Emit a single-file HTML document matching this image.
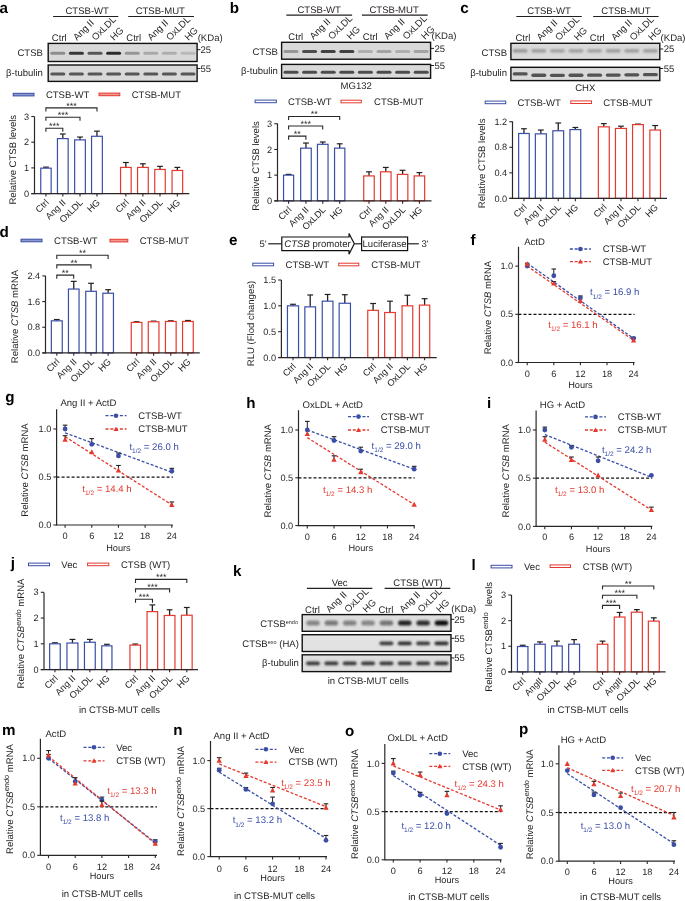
<!DOCTYPE html><html><head><meta charset="utf-8"><style>html,body{margin:0;padding:0;background:#fff;}svg{display:block;filter:blur(0.3px);}text{font-family:"Liberation Sans",sans-serif;text-rendering:geometricPrecision;}</style></head><body>
<svg width="685" height="901" viewBox="0 0 685 901">
<defs><filter id="bl" x="-50%" y="-100%" width="200%" height="300%"><feGaussianBlur stdDeviation="0.75"/></filter><filter id="bl2" x="-50%" y="-100%" width="200%" height="300%"><feGaussianBlur stdDeviation="1.1"/></filter></defs>
<rect width="685" height="901" fill="#fff"/>
<text x="-0.60" y="12.50" font-size="15.2" text-anchor="start" fill="#000" font-weight="bold" font-style="normal">a</text>
<text x="87.20" y="14.19" font-size="9.55" text-anchor="middle" fill="#231f20" font-weight="normal" font-style="normal">CTSB-WT</text>
<line x1="53.10" y1="16.50" x2="118.30" y2="16.50" stroke="#231f20" stroke-width="1.2"/>
<text x="160.30" y="14.19" font-size="9.55" text-anchor="middle" fill="#231f20" font-weight="normal" font-style="normal">CTSB-MUT</text>
<line x1="128.20" y1="16.50" x2="194.00" y2="16.50" stroke="#231f20" stroke-width="1.2"/>
<text x="59.30" y="41.10" font-size="9.55" text-anchor="middle" fill="#231f20" font-weight="normal" font-style="normal">Ctrl</text>
<text x="76.90" y="41.10" font-size="9.55" text-anchor="start" fill="#231f20" transform="rotate(-45 76.90 41.10)">Ang II</text>
<text x="95.50" y="41.10" font-size="9.55" text-anchor="start" fill="#231f20" transform="rotate(-45 95.50 41.10)">OxLDL</text>
<text x="114.10" y="41.10" font-size="9.55" text-anchor="start" fill="#231f20" transform="rotate(-45 114.10 41.10)">HG</text>
<text x="133.70" y="41.10" font-size="9.55" text-anchor="middle" fill="#231f20" font-weight="normal" font-style="normal">Ctrl</text>
<text x="151.30" y="41.10" font-size="9.55" text-anchor="start" fill="#231f20" transform="rotate(-45 151.30 41.10)">Ang II</text>
<text x="169.90" y="41.10" font-size="9.55" text-anchor="start" fill="#231f20" transform="rotate(-45 169.90 41.10)">OxLDL</text>
<text x="188.50" y="41.10" font-size="9.55" text-anchor="start" fill="#231f20" transform="rotate(-45 188.50 41.10)">HG</text>
<text x="197.70" y="41.09" font-size="9.55" text-anchor="start" fill="#231f20" font-weight="normal" font-style="normal">(KDa)</text>
<rect x="48.20" y="43.40" width="148.90" height="18.10" fill="#d9d9d9" stroke="#111" stroke-width="1.4"/>
<rect x="50.30" y="51.75" width="15.00" height="3.00" rx="1.50" fill="#000" fill-opacity="0.35" filter="url(#bl)"/>
<rect x="68.90" y="51.75" width="15.00" height="3.00" rx="1.50" fill="#000" fill-opacity="0.75" filter="url(#bl)"/>
<rect x="87.50" y="51.75" width="15.00" height="3.00" rx="1.50" fill="#000" fill-opacity="0.60" filter="url(#bl)"/>
<rect x="106.10" y="51.75" width="15.00" height="3.00" rx="1.50" fill="#000" fill-opacity="0.80" filter="url(#bl)"/>
<rect x="124.70" y="51.75" width="15.00" height="3.00" rx="1.50" fill="#000" fill-opacity="0.30" filter="url(#bl)"/>
<rect x="143.30" y="51.75" width="15.00" height="3.00" rx="1.50" fill="#000" fill-opacity="0.22" filter="url(#bl)"/>
<rect x="161.90" y="51.75" width="15.00" height="3.00" rx="1.50" fill="#000" fill-opacity="0.20" filter="url(#bl)"/>
<rect x="180.50" y="51.75" width="15.00" height="3.00" rx="1.50" fill="#000" fill-opacity="0.15" filter="url(#bl)"/>
<rect x="48.20" y="65.00" width="148.90" height="16.40" fill="#d9d9d9" stroke="#111" stroke-width="1.4"/>
<rect x="50.30" y="72.50" width="15.00" height="3.00" rx="1.50" fill="#000" fill-opacity="0.60" filter="url(#bl)"/>
<rect x="68.90" y="72.50" width="15.00" height="3.00" rx="1.50" fill="#000" fill-opacity="0.60" filter="url(#bl)"/>
<rect x="87.50" y="72.50" width="15.00" height="3.00" rx="1.50" fill="#000" fill-opacity="0.60" filter="url(#bl)"/>
<rect x="106.10" y="72.50" width="15.00" height="3.00" rx="1.50" fill="#000" fill-opacity="0.60" filter="url(#bl)"/>
<rect x="124.70" y="72.50" width="15.00" height="3.00" rx="1.50" fill="#000" fill-opacity="0.60" filter="url(#bl)"/>
<rect x="143.30" y="72.50" width="15.00" height="3.00" rx="1.50" fill="#000" fill-opacity="0.60" filter="url(#bl)"/>
<rect x="161.90" y="72.50" width="15.00" height="3.00" rx="1.50" fill="#000" fill-opacity="0.60" filter="url(#bl)"/>
<rect x="180.50" y="72.50" width="15.00" height="3.00" rx="1.50" fill="#000" fill-opacity="0.60" filter="url(#bl)"/>
<text x="42.90" y="55.89" font-size="9.55" text-anchor="end" fill="#231f20" font-weight="normal" font-style="normal">CTSB</text>
<text x="42.90" y="75.99" font-size="9.55" text-anchor="end" fill="#231f20" font-weight="normal" font-style="normal">β-tubulin</text>
<line x1="197.10" y1="49.70" x2="200.50" y2="49.70" stroke="#231f20" stroke-width="1.0"/>
<text x="200.50" y="52.99" font-size="9.55" text-anchor="start" fill="#231f20" font-weight="normal" font-style="normal">25</text>
<line x1="197.10" y1="68.50" x2="200.50" y2="68.50" stroke="#231f20" stroke-width="1.0"/>
<text x="200.50" y="71.79" font-size="9.55" text-anchor="start" fill="#231f20" font-weight="normal" font-style="normal">55</text>
<rect x="13.20" y="93.30" width="20.80" height="2.6" fill="#8a98cf" stroke="#3a4ea6" stroke-width="1"/>
<text x="45.90" y="97.99" font-size="9.55" text-anchor="start" fill="#231f20" font-weight="normal" font-style="normal">CTSB-WT</text>
<rect x="99.00" y="93.10" width="20.80" height="2.6" fill="#f09a93" stroke="#e5392e" stroke-width="1"/>
<text x="131.70" y="97.99" font-size="9.55" text-anchor="start" fill="#231f20" font-weight="normal" font-style="normal">CTSB-MUT</text>
<line x1="45.95" y1="168.16" x2="45.95" y2="167.13" stroke="#231f20" stroke-width="1.3"/>
<line x1="43.05" y1="167.13" x2="48.85" y2="167.13" stroke="#231f20" stroke-width="1.2"/>
<rect x="40.75" y="168.16" width="10.40" height="25.44" fill="#fff" stroke="#3a4ea6" stroke-width="1.2"/>
<line x1="45.95" y1="193.60" x2="45.95" y2="196.40" stroke="#2b2728" stroke-width="1.1"/>
<line x1="62.80" y1="138.60" x2="62.80" y2="133.98" stroke="#231f20" stroke-width="1.3"/>
<line x1="59.90" y1="133.98" x2="65.70" y2="133.98" stroke="#231f20" stroke-width="1.2"/>
<rect x="57.45" y="138.60" width="10.70" height="55.00" fill="#fff" stroke="#3a4ea6" stroke-width="1.2"/>
<line x1="62.80" y1="193.60" x2="62.80" y2="196.40" stroke="#2b2728" stroke-width="1.1"/>
<line x1="80.00" y1="139.89" x2="80.00" y2="137.06" stroke="#231f20" stroke-width="1.3"/>
<line x1="77.10" y1="137.06" x2="82.90" y2="137.06" stroke="#231f20" stroke-width="1.2"/>
<rect x="74.65" y="139.89" width="10.70" height="53.71" fill="#fff" stroke="#3a4ea6" stroke-width="1.2"/>
<line x1="80.00" y1="193.60" x2="80.00" y2="196.40" stroke="#2b2728" stroke-width="1.1"/>
<line x1="96.95" y1="136.29" x2="96.95" y2="131.15" stroke="#231f20" stroke-width="1.3"/>
<line x1="94.05" y1="131.15" x2="99.85" y2="131.15" stroke="#231f20" stroke-width="1.2"/>
<rect x="91.55" y="136.29" width="10.80" height="57.31" fill="#fff" stroke="#3a4ea6" stroke-width="1.2"/>
<line x1="96.95" y1="193.60" x2="96.95" y2="196.40" stroke="#2b2728" stroke-width="1.1"/>
<line x1="125.85" y1="167.39" x2="125.85" y2="162.50" stroke="#231f20" stroke-width="1.3"/>
<line x1="122.95" y1="162.50" x2="128.75" y2="162.50" stroke="#231f20" stroke-width="1.2"/>
<rect x="120.55" y="167.39" width="10.60" height="26.21" fill="#fff" stroke="#e5392e" stroke-width="1.2"/>
<line x1="125.85" y1="193.60" x2="125.85" y2="196.40" stroke="#2b2728" stroke-width="1.1"/>
<line x1="142.90" y1="167.39" x2="142.90" y2="163.79" stroke="#231f20" stroke-width="1.3"/>
<line x1="140.00" y1="163.79" x2="145.80" y2="163.79" stroke="#231f20" stroke-width="1.2"/>
<rect x="137.55" y="167.39" width="10.70" height="26.21" fill="#fff" stroke="#e5392e" stroke-width="1.2"/>
<line x1="142.90" y1="193.60" x2="142.90" y2="196.40" stroke="#2b2728" stroke-width="1.1"/>
<line x1="160.00" y1="169.44" x2="160.00" y2="166.36" stroke="#231f20" stroke-width="1.3"/>
<line x1="157.10" y1="166.36" x2="162.90" y2="166.36" stroke="#231f20" stroke-width="1.2"/>
<rect x="154.75" y="169.44" width="10.50" height="24.16" fill="#fff" stroke="#e5392e" stroke-width="1.2"/>
<line x1="160.00" y1="193.60" x2="160.00" y2="196.40" stroke="#2b2728" stroke-width="1.1"/>
<line x1="177.35" y1="170.47" x2="177.35" y2="167.39" stroke="#231f20" stroke-width="1.3"/>
<line x1="174.45" y1="167.39" x2="180.25" y2="167.39" stroke="#231f20" stroke-width="1.2"/>
<rect x="172.05" y="170.47" width="10.60" height="23.13" fill="#fff" stroke="#e5392e" stroke-width="1.2"/>
<line x1="177.35" y1="193.60" x2="177.35" y2="196.40" stroke="#2b2728" stroke-width="1.1"/>
<line x1="34.50" y1="116.60" x2="34.50" y2="194.15" stroke="#2b2728" stroke-width="1.2"/>
<line x1="31.30" y1="193.60" x2="189.30" y2="193.60" stroke="#2b2728" stroke-width="1.25"/>
<line x1="31.30" y1="193.60" x2="34.50" y2="193.60" stroke="#2b2728" stroke-width="1.1"/>
<text x="29.20" y="196.76" font-size="9.2" text-anchor="end" fill="#231f20" font-weight="normal" font-style="normal">0</text>
<line x1="31.30" y1="167.90" x2="34.50" y2="167.90" stroke="#2b2728" stroke-width="1.1"/>
<text x="29.20" y="171.06" font-size="9.2" text-anchor="end" fill="#231f20" font-weight="normal" font-style="normal">1</text>
<line x1="31.30" y1="142.20" x2="34.50" y2="142.20" stroke="#2b2728" stroke-width="1.1"/>
<text x="29.20" y="145.36" font-size="9.2" text-anchor="end" fill="#231f20" font-weight="normal" font-style="normal">2</text>
<line x1="31.30" y1="116.50" x2="34.50" y2="116.50" stroke="#2b2728" stroke-width="1.1"/>
<text x="29.20" y="119.66" font-size="9.2" text-anchor="end" fill="#231f20" font-weight="normal" font-style="normal">3</text>
<text x="49.45" y="203.10" font-size="9.2" text-anchor="end" fill="#231f20" transform="rotate(-45 49.45 203.10)">Ctrl</text>
<text x="66.30" y="203.10" font-size="9.2" text-anchor="end" fill="#231f20" transform="rotate(-45 66.30 203.10)">Ang II</text>
<text x="83.50" y="203.10" font-size="9.2" text-anchor="end" fill="#231f20" transform="rotate(-45 83.50 203.10)">OxLDL</text>
<text x="100.45" y="203.10" font-size="9.2" text-anchor="end" fill="#231f20" transform="rotate(-45 100.45 203.10)">HG</text>
<text x="129.35" y="203.10" font-size="9.2" text-anchor="end" fill="#231f20" transform="rotate(-45 129.35 203.10)">Ctrl</text>
<text x="146.40" y="203.10" font-size="9.2" text-anchor="end" fill="#231f20" transform="rotate(-45 146.40 203.10)">Ang II</text>
<text x="163.50" y="203.10" font-size="9.2" text-anchor="end" fill="#231f20" transform="rotate(-45 163.50 203.10)">OxLDL</text>
<text x="180.85" y="203.10" font-size="9.2" text-anchor="end" fill="#231f20" transform="rotate(-45 180.85 203.10)">HG</text>
<text x="16.39" y="159.70" font-size="9.55" text-anchor="middle" fill="#231f20" transform="rotate(-90 16.39 159.70)">Relative CTSB levels</text>
<path d="M45.90,131.80 V128.20 H62.80 V131.80" fill="none" stroke="#2b2728" stroke-width="1.1"/>
<text x="54.35" y="129.00" font-size="9" text-anchor="middle" fill="#231f20">***</text>
<path d="M45.90,120.80 V117.20 H80.00 V120.80" fill="none" stroke="#2b2728" stroke-width="1.1"/>
<text x="62.95" y="118.00" font-size="9" text-anchor="middle" fill="#231f20">***</text>
<path d="M45.90,111.50 V107.90 H97.00 V111.50" fill="none" stroke="#2b2728" stroke-width="1.1"/>
<text x="71.45" y="108.70" font-size="9" text-anchor="middle" fill="#231f20">***</text>
<text x="229.70" y="12.50" font-size="15.2" text-anchor="start" fill="#000" font-weight="bold" font-style="normal">b</text>
<text x="319.20" y="12.89" font-size="9.55" text-anchor="middle" fill="#231f20" font-weight="normal" font-style="normal">CTSB-WT</text>
<line x1="286.30" y1="15.10" x2="352.10" y2="15.10" stroke="#231f20" stroke-width="1.2"/>
<text x="394.10" y="12.89" font-size="9.55" text-anchor="middle" fill="#231f20" font-weight="normal" font-style="normal">CTSB-MUT</text>
<line x1="361.90" y1="15.10" x2="427.70" y2="15.10" stroke="#231f20" stroke-width="1.2"/>
<text x="295.80" y="40.00" font-size="9.55" text-anchor="middle" fill="#231f20" font-weight="normal" font-style="normal">Ctrl</text>
<text x="313.40" y="40.00" font-size="9.55" text-anchor="start" fill="#231f20" transform="rotate(-45 313.40 40.00)">Ang II</text>
<text x="332.00" y="40.00" font-size="9.55" text-anchor="start" fill="#231f20" transform="rotate(-45 332.00 40.00)">OxLDL</text>
<text x="350.60" y="40.00" font-size="9.55" text-anchor="start" fill="#231f20" transform="rotate(-45 350.60 40.00)">HG</text>
<text x="370.20" y="40.00" font-size="9.55" text-anchor="middle" fill="#231f20" font-weight="normal" font-style="normal">Ctrl</text>
<text x="387.80" y="40.00" font-size="9.55" text-anchor="start" fill="#231f20" transform="rotate(-45 387.80 40.00)">Ang II</text>
<text x="406.40" y="40.00" font-size="9.55" text-anchor="start" fill="#231f20" transform="rotate(-45 406.40 40.00)">OxLDL</text>
<text x="425.00" y="40.00" font-size="9.55" text-anchor="start" fill="#231f20" transform="rotate(-45 425.00 40.00)">HG</text>
<text x="431.50" y="39.29" font-size="9.55" text-anchor="start" fill="#231f20" font-weight="normal" font-style="normal">(KDa)</text>
<rect x="281.60" y="42.30" width="149.00" height="16.90" fill="#d9d9d9" stroke="#111" stroke-width="1.4"/>
<rect x="283.50" y="50.05" width="15.00" height="3.00" rx="1.50" fill="#000" fill-opacity="0.30" filter="url(#bl)"/>
<rect x="302.10" y="50.05" width="15.00" height="3.00" rx="1.50" fill="#000" fill-opacity="0.65" filter="url(#bl)"/>
<rect x="320.70" y="50.05" width="15.00" height="3.00" rx="1.50" fill="#000" fill-opacity="0.70" filter="url(#bl)"/>
<rect x="339.30" y="50.05" width="15.00" height="3.00" rx="1.50" fill="#000" fill-opacity="0.70" filter="url(#bl)"/>
<rect x="357.90" y="50.05" width="15.00" height="3.00" rx="1.50" fill="#000" fill-opacity="0.20" filter="url(#bl)"/>
<rect x="376.50" y="50.05" width="15.00" height="3.00" rx="1.50" fill="#000" fill-opacity="0.25" filter="url(#bl)"/>
<rect x="395.10" y="50.05" width="15.00" height="3.00" rx="1.50" fill="#000" fill-opacity="0.20" filter="url(#bl)"/>
<rect x="413.70" y="50.05" width="15.00" height="3.00" rx="1.50" fill="#000" fill-opacity="0.25" filter="url(#bl)"/>
<rect x="281.60" y="64.40" width="149.00" height="13.90" fill="#d9d9d9" stroke="#111" stroke-width="1.4"/>
<rect x="283.50" y="70.65" width="15.00" height="3.00" rx="1.50" fill="#000" fill-opacity="0.65" filter="url(#bl)"/>
<rect x="302.10" y="70.65" width="15.00" height="3.00" rx="1.50" fill="#000" fill-opacity="0.65" filter="url(#bl)"/>
<rect x="320.70" y="70.65" width="15.00" height="3.00" rx="1.50" fill="#000" fill-opacity="0.65" filter="url(#bl)"/>
<rect x="339.30" y="70.65" width="15.00" height="3.00" rx="1.50" fill="#000" fill-opacity="0.65" filter="url(#bl)"/>
<rect x="357.90" y="70.65" width="15.00" height="3.00" rx="1.50" fill="#000" fill-opacity="0.65" filter="url(#bl)"/>
<rect x="376.50" y="70.65" width="15.00" height="3.00" rx="1.50" fill="#000" fill-opacity="0.65" filter="url(#bl)"/>
<rect x="395.10" y="70.65" width="15.00" height="3.00" rx="1.50" fill="#000" fill-opacity="0.65" filter="url(#bl)"/>
<rect x="413.70" y="70.65" width="15.00" height="3.00" rx="1.50" fill="#000" fill-opacity="0.65" filter="url(#bl)"/>
<text x="277.90" y="54.59" font-size="9.55" text-anchor="end" fill="#231f20" font-weight="normal" font-style="normal">CTSB</text>
<text x="277.90" y="74.29" font-size="9.55" text-anchor="end" fill="#231f20" font-weight="normal" font-style="normal">β-tubulin</text>
<line x1="430.60" y1="48.40" x2="434.00" y2="48.40" stroke="#231f20" stroke-width="1.0"/>
<text x="434.50" y="51.69" font-size="9.55" text-anchor="start" fill="#231f20" font-weight="normal" font-style="normal">25</text>
<line x1="430.60" y1="65.50" x2="434.00" y2="65.50" stroke="#231f20" stroke-width="1.0"/>
<text x="434.50" y="68.79" font-size="9.55" text-anchor="start" fill="#231f20" font-weight="normal" font-style="normal">55</text>
<text x="356.20" y="88.69" font-size="9.55" text-anchor="middle" fill="#231f20" font-weight="normal" font-style="normal">MG132</text>
<rect x="255.10" y="100.10" width="21.20" height="2.6" fill="#fff" stroke="#3a4ea6" stroke-width="1"/>
<text x="288.00" y="104.89" font-size="9.55" text-anchor="start" fill="#231f20" font-weight="normal" font-style="normal">CTSB-WT</text>
<rect x="341.00" y="100.20" width="20.30" height="2.6" fill="#fff" stroke="#e5392e" stroke-width="1"/>
<text x="374.00" y="105.09" font-size="9.55" text-anchor="start" fill="#231f20" font-weight="normal" font-style="normal">CTSB-MUT</text>
<line x1="288.60" y1="175.15" x2="288.60" y2="174.38" stroke="#231f20" stroke-width="1.3"/>
<line x1="285.70" y1="174.38" x2="291.50" y2="174.38" stroke="#231f20" stroke-width="1.2"/>
<rect x="283.55" y="175.15" width="10.10" height="25.70" fill="#fff" stroke="#3a4ea6" stroke-width="1.2"/>
<line x1="288.60" y1="200.85" x2="288.60" y2="203.65" stroke="#2b2728" stroke-width="1.1"/>
<line x1="305.95" y1="148.16" x2="305.95" y2="143.03" stroke="#231f20" stroke-width="1.3"/>
<line x1="303.05" y1="143.03" x2="308.85" y2="143.03" stroke="#231f20" stroke-width="1.2"/>
<rect x="300.65" y="148.16" width="10.60" height="52.69" fill="#fff" stroke="#3a4ea6" stroke-width="1.2"/>
<line x1="305.95" y1="200.85" x2="305.95" y2="203.65" stroke="#2b2728" stroke-width="1.1"/>
<line x1="322.75" y1="144.31" x2="322.75" y2="142.00" stroke="#231f20" stroke-width="1.3"/>
<line x1="319.85" y1="142.00" x2="325.65" y2="142.00" stroke="#231f20" stroke-width="1.2"/>
<rect x="317.45" y="144.31" width="10.60" height="56.54" fill="#fff" stroke="#3a4ea6" stroke-width="1.2"/>
<line x1="322.75" y1="200.85" x2="322.75" y2="203.65" stroke="#2b2728" stroke-width="1.1"/>
<line x1="339.70" y1="148.16" x2="339.70" y2="143.80" stroke="#231f20" stroke-width="1.3"/>
<line x1="336.80" y1="143.80" x2="342.60" y2="143.80" stroke="#231f20" stroke-width="1.2"/>
<rect x="334.55" y="148.16" width="10.30" height="52.69" fill="#fff" stroke="#3a4ea6" stroke-width="1.2"/>
<line x1="339.70" y1="200.85" x2="339.70" y2="203.65" stroke="#2b2728" stroke-width="1.1"/>
<line x1="369.00" y1="175.92" x2="369.00" y2="171.81" stroke="#231f20" stroke-width="1.3"/>
<line x1="366.10" y1="171.81" x2="371.90" y2="171.81" stroke="#231f20" stroke-width="1.2"/>
<rect x="363.75" y="175.92" width="10.50" height="24.93" fill="#fff" stroke="#e5392e" stroke-width="1.2"/>
<line x1="369.00" y1="200.85" x2="369.00" y2="203.65" stroke="#2b2728" stroke-width="1.1"/>
<line x1="385.80" y1="171.81" x2="385.80" y2="167.44" stroke="#231f20" stroke-width="1.3"/>
<line x1="382.90" y1="167.44" x2="388.70" y2="167.44" stroke="#231f20" stroke-width="1.2"/>
<rect x="380.55" y="171.81" width="10.50" height="29.04" fill="#fff" stroke="#e5392e" stroke-width="1.2"/>
<line x1="385.80" y1="200.85" x2="385.80" y2="203.65" stroke="#2b2728" stroke-width="1.1"/>
<line x1="402.60" y1="174.38" x2="402.60" y2="170.27" stroke="#231f20" stroke-width="1.3"/>
<line x1="399.70" y1="170.27" x2="405.50" y2="170.27" stroke="#231f20" stroke-width="1.2"/>
<rect x="397.35" y="174.38" width="10.50" height="26.47" fill="#fff" stroke="#e5392e" stroke-width="1.2"/>
<line x1="402.60" y1="200.85" x2="402.60" y2="203.65" stroke="#2b2728" stroke-width="1.1"/>
<line x1="419.40" y1="175.92" x2="419.40" y2="172.58" stroke="#231f20" stroke-width="1.3"/>
<line x1="416.50" y1="172.58" x2="422.30" y2="172.58" stroke="#231f20" stroke-width="1.2"/>
<rect x="414.15" y="175.92" width="10.50" height="24.93" fill="#fff" stroke="#e5392e" stroke-width="1.2"/>
<line x1="419.40" y1="200.85" x2="419.40" y2="203.65" stroke="#2b2728" stroke-width="1.1"/>
<line x1="277.50" y1="123.50" x2="277.50" y2="201.40" stroke="#2b2728" stroke-width="1.2"/>
<line x1="274.30" y1="200.85" x2="431.50" y2="200.85" stroke="#2b2728" stroke-width="1.25"/>
<line x1="274.30" y1="200.85" x2="277.50" y2="200.85" stroke="#2b2728" stroke-width="1.1"/>
<text x="272.20" y="204.01" font-size="9.2" text-anchor="end" fill="#231f20" font-weight="normal" font-style="normal">0</text>
<line x1="274.30" y1="175.15" x2="277.50" y2="175.15" stroke="#2b2728" stroke-width="1.1"/>
<text x="272.20" y="178.31" font-size="9.2" text-anchor="end" fill="#231f20" font-weight="normal" font-style="normal">1</text>
<line x1="274.30" y1="149.45" x2="277.50" y2="149.45" stroke="#2b2728" stroke-width="1.1"/>
<text x="272.20" y="152.61" font-size="9.2" text-anchor="end" fill="#231f20" font-weight="normal" font-style="normal">2</text>
<line x1="274.30" y1="123.75" x2="277.50" y2="123.75" stroke="#2b2728" stroke-width="1.1"/>
<text x="272.20" y="126.91" font-size="9.2" text-anchor="end" fill="#231f20" font-weight="normal" font-style="normal">3</text>
<text x="292.10" y="210.35" font-size="9.2" text-anchor="end" fill="#231f20" transform="rotate(-45 292.10 210.35)">Ctrl</text>
<text x="309.45" y="210.35" font-size="9.2" text-anchor="end" fill="#231f20" transform="rotate(-45 309.45 210.35)">Ang II</text>
<text x="326.25" y="210.35" font-size="9.2" text-anchor="end" fill="#231f20" transform="rotate(-45 326.25 210.35)">OxLDL</text>
<text x="343.20" y="210.35" font-size="9.2" text-anchor="end" fill="#231f20" transform="rotate(-45 343.20 210.35)">HG</text>
<text x="372.50" y="210.35" font-size="9.2" text-anchor="end" fill="#231f20" transform="rotate(-45 372.50 210.35)">Ctrl</text>
<text x="389.30" y="210.35" font-size="9.2" text-anchor="end" fill="#231f20" transform="rotate(-45 389.30 210.35)">Ang II</text>
<text x="406.10" y="210.35" font-size="9.2" text-anchor="end" fill="#231f20" transform="rotate(-45 406.10 210.35)">OxLDL</text>
<text x="422.90" y="210.35" font-size="9.2" text-anchor="end" fill="#231f20" transform="rotate(-45 422.90 210.35)">HG</text>
<text x="259.29" y="166.00" font-size="9.55" text-anchor="middle" fill="#231f20" transform="rotate(-90 259.29 166.00)">Relative CTSB levels</text>
<path d="M288.60,139.70 V136.10 H305.90 V139.70" fill="none" stroke="#2b2728" stroke-width="1.1"/>
<text x="297.25" y="136.90" font-size="9" text-anchor="middle" fill="#231f20">**</text>
<path d="M288.60,129.60 V126.00 H322.70 V129.60" fill="none" stroke="#2b2728" stroke-width="1.1"/>
<text x="305.65" y="126.80" font-size="9" text-anchor="middle" fill="#231f20">***</text>
<path d="M288.60,120.10 V116.50 H339.70 V120.10" fill="none" stroke="#2b2728" stroke-width="1.1"/>
<text x="314.15" y="117.30" font-size="9" text-anchor="middle" fill="#231f20">**</text>
<text x="460.30" y="12.80" font-size="15.2" text-anchor="start" fill="#000" font-weight="bold" font-style="normal">c</text>
<text x="549.00" y="14.19" font-size="9.55" text-anchor="middle" fill="#231f20" font-weight="normal" font-style="normal">CTSB-WT</text>
<line x1="516.30" y1="16.50" x2="581.80" y2="16.50" stroke="#231f20" stroke-width="1.2"/>
<text x="625.90" y="14.19" font-size="9.55" text-anchor="middle" fill="#231f20" font-weight="normal" font-style="normal">CTSB-MUT</text>
<line x1="593.20" y1="16.50" x2="658.60" y2="16.50" stroke="#231f20" stroke-width="1.2"/>
<text x="522.90" y="41.10" font-size="9.55" text-anchor="middle" fill="#231f20" font-weight="normal" font-style="normal">Ctrl</text>
<text x="540.50" y="41.10" font-size="9.55" text-anchor="start" fill="#231f20" transform="rotate(-45 540.50 41.10)">Ang II</text>
<text x="559.10" y="41.10" font-size="9.55" text-anchor="start" fill="#231f20" transform="rotate(-45 559.10 41.10)">OxLDL</text>
<text x="577.70" y="41.10" font-size="9.55" text-anchor="start" fill="#231f20" transform="rotate(-45 577.70 41.10)">HG</text>
<text x="597.30" y="41.10" font-size="9.55" text-anchor="middle" fill="#231f20" font-weight="normal" font-style="normal">Ctrl</text>
<text x="614.90" y="41.10" font-size="9.55" text-anchor="start" fill="#231f20" transform="rotate(-45 614.90 41.10)">Ang II</text>
<text x="633.50" y="41.10" font-size="9.55" text-anchor="start" fill="#231f20" transform="rotate(-45 633.50 41.10)">OxLDL</text>
<text x="652.10" y="41.10" font-size="9.55" text-anchor="start" fill="#231f20" transform="rotate(-45 652.10 41.10)">HG</text>
<text x="660.60" y="41.09" font-size="9.55" text-anchor="start" fill="#231f20" font-weight="normal" font-style="normal">(KDa)</text>
<rect x="510.90" y="43.30" width="148.90" height="16.30" fill="#d9d9d9" stroke="#111" stroke-width="1.4"/>
<rect x="512.70" y="49.25" width="15.00" height="3.20" rx="1.60" fill="#000" fill-opacity="0.32" filter="url(#bl2)"/>
<rect x="531.30" y="49.25" width="15.00" height="3.20" rx="1.60" fill="#000" fill-opacity="0.30" filter="url(#bl2)"/>
<rect x="549.90" y="49.25" width="15.00" height="3.20" rx="1.60" fill="#000" fill-opacity="0.28" filter="url(#bl2)"/>
<rect x="568.50" y="49.25" width="15.00" height="3.20" rx="1.60" fill="#000" fill-opacity="0.28" filter="url(#bl2)"/>
<rect x="587.10" y="49.25" width="15.00" height="3.20" rx="1.60" fill="#000" fill-opacity="0.28" filter="url(#bl2)"/>
<rect x="605.70" y="49.25" width="15.00" height="3.20" rx="1.60" fill="#000" fill-opacity="0.30" filter="url(#bl2)"/>
<rect x="624.30" y="49.25" width="15.00" height="3.20" rx="1.60" fill="#000" fill-opacity="0.30" filter="url(#bl2)"/>
<rect x="642.90" y="49.25" width="15.00" height="3.20" rx="1.60" fill="#000" fill-opacity="0.30" filter="url(#bl2)"/>
<rect x="510.90" y="67.30" width="148.90" height="13.30" fill="#d9d9d9" stroke="#111" stroke-width="1.4"/>
<rect x="512.70" y="72.30" width="15.00" height="3.30" rx="1.65" fill="#000" fill-opacity="0.62" filter="url(#bl)"/>
<rect x="531.30" y="73.60" width="15.00" height="3.30" rx="1.65" fill="#000" fill-opacity="0.62" filter="url(#bl)"/>
<rect x="549.90" y="73.70" width="15.00" height="3.30" rx="1.65" fill="#000" fill-opacity="0.62" filter="url(#bl)"/>
<rect x="568.50" y="73.60" width="15.00" height="3.30" rx="1.65" fill="#000" fill-opacity="0.62" filter="url(#bl)"/>
<rect x="587.10" y="73.50" width="15.00" height="3.30" rx="1.65" fill="#000" fill-opacity="0.62" filter="url(#bl)"/>
<rect x="605.70" y="73.40" width="15.00" height="3.30" rx="1.65" fill="#000" fill-opacity="0.62" filter="url(#bl)"/>
<rect x="624.30" y="73.20" width="15.00" height="3.30" rx="1.65" fill="#000" fill-opacity="0.62" filter="url(#bl)"/>
<rect x="642.90" y="73.00" width="15.00" height="3.30" rx="1.65" fill="#000" fill-opacity="0.62" filter="url(#bl)"/>
<text x="507.00" y="56.19" font-size="9.55" text-anchor="end" fill="#231f20" font-weight="normal" font-style="normal">CTSB</text>
<text x="507.00" y="75.79" font-size="9.55" text-anchor="end" fill="#231f20" font-weight="normal" font-style="normal">β-tubulin</text>
<line x1="659.80" y1="49.00" x2="663.20" y2="49.00" stroke="#231f20" stroke-width="1.0"/>
<text x="663.70" y="52.29" font-size="9.55" text-anchor="start" fill="#231f20" font-weight="normal" font-style="normal">25</text>
<line x1="659.80" y1="68.50" x2="663.20" y2="68.50" stroke="#231f20" stroke-width="1.0"/>
<text x="663.70" y="71.79" font-size="9.55" text-anchor="start" fill="#231f20" font-weight="normal" font-style="normal">55</text>
<text x="585.30" y="90.89" font-size="9.55" text-anchor="middle" fill="#231f20" font-weight="normal" font-style="normal">CHX</text>
<rect x="485.20" y="101.10" width="20.50" height="2.6" fill="#fff" stroke="#3a4ea6" stroke-width="1"/>
<text x="517.40" y="105.69" font-size="9.55" text-anchor="start" fill="#231f20" font-weight="normal" font-style="normal">CTSB-WT</text>
<rect x="570.80" y="100.90" width="20.70" height="2.6" fill="#fff" stroke="#e5392e" stroke-width="1"/>
<text x="603.20" y="105.69" font-size="9.55" text-anchor="start" fill="#231f20" font-weight="normal" font-style="normal">CTSB-MUT</text>
<line x1="523.95" y1="133.48" x2="523.95" y2="128.75" stroke="#231f20" stroke-width="1.3"/>
<line x1="521.05" y1="128.75" x2="526.85" y2="128.75" stroke="#231f20" stroke-width="1.2"/>
<rect x="518.65" y="133.48" width="10.60" height="64.92" fill="#fff" stroke="#3a4ea6" stroke-width="1.2"/>
<line x1="523.95" y1="198.40" x2="523.95" y2="201.20" stroke="#2b2728" stroke-width="1.1"/>
<line x1="540.85" y1="133.86" x2="540.85" y2="130.03" stroke="#231f20" stroke-width="1.3"/>
<line x1="537.95" y1="130.03" x2="543.75" y2="130.03" stroke="#231f20" stroke-width="1.2"/>
<rect x="535.35" y="133.86" width="11.00" height="64.54" fill="#fff" stroke="#3a4ea6" stroke-width="1.2"/>
<line x1="540.85" y1="198.40" x2="540.85" y2="201.20" stroke="#2b2728" stroke-width="1.1"/>
<line x1="558.25" y1="130.79" x2="558.25" y2="123.00" stroke="#231f20" stroke-width="1.3"/>
<line x1="555.35" y1="123.00" x2="561.15" y2="123.00" stroke="#231f20" stroke-width="1.2"/>
<rect x="552.85" y="130.79" width="10.80" height="67.61" fill="#fff" stroke="#3a4ea6" stroke-width="1.2"/>
<line x1="558.25" y1="198.40" x2="558.25" y2="201.20" stroke="#2b2728" stroke-width="1.1"/>
<line x1="575.35" y1="129.58" x2="575.35" y2="127.47" stroke="#231f20" stroke-width="1.3"/>
<line x1="572.45" y1="127.47" x2="578.25" y2="127.47" stroke="#231f20" stroke-width="1.2"/>
<rect x="569.95" y="129.58" width="10.80" height="68.82" fill="#fff" stroke="#3a4ea6" stroke-width="1.2"/>
<line x1="575.35" y1="198.40" x2="575.35" y2="201.20" stroke="#2b2728" stroke-width="1.1"/>
<line x1="603.80" y1="126.83" x2="603.80" y2="123.64" stroke="#231f20" stroke-width="1.3"/>
<line x1="600.90" y1="123.64" x2="606.70" y2="123.64" stroke="#231f20" stroke-width="1.2"/>
<rect x="598.35" y="126.83" width="10.90" height="71.57" fill="#fff" stroke="#e5392e" stroke-width="1.2"/>
<line x1="603.80" y1="198.40" x2="603.80" y2="201.20" stroke="#2b2728" stroke-width="1.1"/>
<line x1="620.95" y1="128.43" x2="620.95" y2="126.19" stroke="#231f20" stroke-width="1.3"/>
<line x1="618.05" y1="126.19" x2="623.85" y2="126.19" stroke="#231f20" stroke-width="1.2"/>
<rect x="615.45" y="128.43" width="11.00" height="69.97" fill="#fff" stroke="#e5392e" stroke-width="1.2"/>
<line x1="620.95" y1="198.40" x2="620.95" y2="201.20" stroke="#2b2728" stroke-width="1.1"/>
<line x1="637.95" y1="124.60" x2="637.95" y2="124.08" stroke="#231f20" stroke-width="1.3"/>
<line x1="635.05" y1="124.08" x2="640.85" y2="124.08" stroke="#231f20" stroke-width="1.2"/>
<rect x="632.55" y="124.60" width="10.80" height="73.80" fill="#fff" stroke="#e5392e" stroke-width="1.2"/>
<line x1="637.95" y1="198.40" x2="637.95" y2="201.20" stroke="#2b2728" stroke-width="1.1"/>
<line x1="655.15" y1="130.03" x2="655.15" y2="125.55" stroke="#231f20" stroke-width="1.3"/>
<line x1="652.25" y1="125.55" x2="658.05" y2="125.55" stroke="#231f20" stroke-width="1.2"/>
<rect x="649.85" y="130.03" width="10.60" height="68.37" fill="#fff" stroke="#e5392e" stroke-width="1.2"/>
<line x1="655.15" y1="198.40" x2="655.15" y2="201.20" stroke="#2b2728" stroke-width="1.1"/>
<line x1="512.50" y1="121.40" x2="512.50" y2="198.95" stroke="#2b2728" stroke-width="1.2"/>
<line x1="509.30" y1="198.40" x2="667.00" y2="198.40" stroke="#2b2728" stroke-width="1.25"/>
<line x1="509.30" y1="198.40" x2="512.50" y2="198.40" stroke="#2b2728" stroke-width="1.1"/>
<text x="507.20" y="201.56" font-size="9.2" text-anchor="end" fill="#231f20" font-weight="normal" font-style="normal">0.0</text>
<line x1="509.30" y1="172.84" x2="512.50" y2="172.84" stroke="#2b2728" stroke-width="1.1"/>
<text x="507.20" y="176.00" font-size="9.2" text-anchor="end" fill="#231f20" font-weight="normal" font-style="normal">0.4</text>
<line x1="509.30" y1="147.28" x2="512.50" y2="147.28" stroke="#2b2728" stroke-width="1.1"/>
<text x="507.20" y="150.44" font-size="9.2" text-anchor="end" fill="#231f20" font-weight="normal" font-style="normal">0.8</text>
<line x1="509.30" y1="121.72" x2="512.50" y2="121.72" stroke="#2b2728" stroke-width="1.1"/>
<text x="507.20" y="124.88" font-size="9.2" text-anchor="end" fill="#231f20" font-weight="normal" font-style="normal">1.2</text>
<text x="527.45" y="207.90" font-size="9.2" text-anchor="end" fill="#231f20" transform="rotate(-45 527.45 207.90)">Ctrl</text>
<text x="544.35" y="207.90" font-size="9.2" text-anchor="end" fill="#231f20" transform="rotate(-45 544.35 207.90)">Ang II</text>
<text x="561.75" y="207.90" font-size="9.2" text-anchor="end" fill="#231f20" transform="rotate(-45 561.75 207.90)">OxLDL</text>
<text x="578.85" y="207.90" font-size="9.2" text-anchor="end" fill="#231f20" transform="rotate(-45 578.85 207.90)">HG</text>
<text x="607.30" y="207.90" font-size="9.2" text-anchor="end" fill="#231f20" transform="rotate(-45 607.30 207.90)">Ctrl</text>
<text x="624.45" y="207.90" font-size="9.2" text-anchor="end" fill="#231f20" transform="rotate(-45 624.45 207.90)">Ang II</text>
<text x="641.45" y="207.90" font-size="9.2" text-anchor="end" fill="#231f20" transform="rotate(-45 641.45 207.90)">OxLDL</text>
<text x="658.65" y="207.90" font-size="9.2" text-anchor="end" fill="#231f20" transform="rotate(-45 658.65 207.90)">HG</text>
<text x="485.19" y="163.30" font-size="9.55" text-anchor="middle" fill="#231f20" transform="rotate(-90 485.19 163.30)">Relative CTSB levels</text>
<text x="-0.60" y="237.00" font-size="15.2" text-anchor="start" fill="#000" font-weight="bold" font-style="normal">d</text>
<rect x="21.00" y="239.20" width="21.00" height="2.6" fill="#8a98cf" stroke="#3a4ea6" stroke-width="1"/>
<text x="54.00" y="243.99" font-size="9.55" text-anchor="start" fill="#231f20" font-weight="normal" font-style="normal">CTSB-WT</text>
<rect x="110.00" y="239.30" width="17.80" height="2.6" fill="#f09a93" stroke="#e5392e" stroke-width="1"/>
<text x="139.70" y="243.99" font-size="9.55" text-anchor="start" fill="#231f20" font-weight="normal" font-style="normal">CTSB-MUT</text>
<line x1="56.80" y1="320.82" x2="56.80" y2="319.54" stroke="#231f20" stroke-width="1.3"/>
<line x1="53.90" y1="319.54" x2="59.70" y2="319.54" stroke="#231f20" stroke-width="1.2"/>
<rect x="51.35" y="320.82" width="10.90" height="32.08" fill="#fff" stroke="#3a4ea6" stroke-width="1.2"/>
<line x1="56.80" y1="352.90" x2="56.80" y2="355.70" stroke="#2b2728" stroke-width="1.1"/>
<line x1="73.75" y1="289.06" x2="73.75" y2="281.36" stroke="#231f20" stroke-width="1.3"/>
<line x1="70.85" y1="281.36" x2="76.65" y2="281.36" stroke="#231f20" stroke-width="1.2"/>
<rect x="68.45" y="289.06" width="10.60" height="63.84" fill="#fff" stroke="#3a4ea6" stroke-width="1.2"/>
<line x1="73.75" y1="352.90" x2="73.75" y2="355.70" stroke="#2b2728" stroke-width="1.1"/>
<line x1="91.05" y1="291.31" x2="91.05" y2="283.29" stroke="#231f20" stroke-width="1.3"/>
<line x1="88.15" y1="283.29" x2="93.95" y2="283.29" stroke="#231f20" stroke-width="1.2"/>
<rect x="85.75" y="291.31" width="10.60" height="61.59" fill="#fff" stroke="#3a4ea6" stroke-width="1.2"/>
<line x1="91.05" y1="352.90" x2="91.05" y2="355.70" stroke="#2b2728" stroke-width="1.1"/>
<line x1="108.15" y1="293.23" x2="108.15" y2="289.70" stroke="#231f20" stroke-width="1.3"/>
<line x1="105.25" y1="289.70" x2="111.05" y2="289.70" stroke="#231f20" stroke-width="1.2"/>
<rect x="102.85" y="293.23" width="10.60" height="59.67" fill="#fff" stroke="#3a4ea6" stroke-width="1.2"/>
<line x1="108.15" y1="352.90" x2="108.15" y2="355.70" stroke="#2b2728" stroke-width="1.1"/>
<line x1="136.60" y1="322.42" x2="136.60" y2="321.78" stroke="#231f20" stroke-width="1.3"/>
<line x1="133.70" y1="321.78" x2="139.50" y2="321.78" stroke="#231f20" stroke-width="1.2"/>
<rect x="131.25" y="322.42" width="10.70" height="30.48" fill="#fff" stroke="#e5392e" stroke-width="1.2"/>
<line x1="136.60" y1="352.90" x2="136.60" y2="355.70" stroke="#2b2728" stroke-width="1.1"/>
<line x1="153.60" y1="321.78" x2="153.60" y2="321.14" stroke="#231f20" stroke-width="1.3"/>
<line x1="150.70" y1="321.14" x2="156.50" y2="321.14" stroke="#231f20" stroke-width="1.2"/>
<rect x="148.25" y="321.78" width="10.70" height="31.12" fill="#fff" stroke="#e5392e" stroke-width="1.2"/>
<line x1="153.60" y1="352.90" x2="153.60" y2="355.70" stroke="#2b2728" stroke-width="1.1"/>
<line x1="170.80" y1="321.46" x2="170.80" y2="320.82" stroke="#231f20" stroke-width="1.3"/>
<line x1="167.90" y1="320.82" x2="173.70" y2="320.82" stroke="#231f20" stroke-width="1.2"/>
<rect x="165.45" y="321.46" width="10.70" height="31.44" fill="#fff" stroke="#e5392e" stroke-width="1.2"/>
<line x1="170.80" y1="352.90" x2="170.80" y2="355.70" stroke="#2b2728" stroke-width="1.1"/>
<line x1="187.90" y1="321.46" x2="187.90" y2="320.50" stroke="#231f20" stroke-width="1.3"/>
<line x1="185.00" y1="320.50" x2="190.80" y2="320.50" stroke="#231f20" stroke-width="1.2"/>
<rect x="182.55" y="321.46" width="10.70" height="31.44" fill="#fff" stroke="#e5392e" stroke-width="1.2"/>
<line x1="187.90" y1="352.90" x2="187.90" y2="355.70" stroke="#2b2728" stroke-width="1.1"/>
<line x1="45.50" y1="275.80" x2="45.50" y2="353.45" stroke="#2b2728" stroke-width="1.2"/>
<line x1="42.30" y1="352.90" x2="199.80" y2="352.90" stroke="#2b2728" stroke-width="1.25"/>
<line x1="42.30" y1="352.90" x2="45.50" y2="352.90" stroke="#2b2728" stroke-width="1.1"/>
<text x="40.20" y="356.06" font-size="9.2" text-anchor="end" fill="#231f20" font-weight="normal" font-style="normal">0.0</text>
<line x1="42.30" y1="327.24" x2="45.50" y2="327.24" stroke="#2b2728" stroke-width="1.1"/>
<text x="40.20" y="330.40" font-size="9.2" text-anchor="end" fill="#231f20" font-weight="normal" font-style="normal">0.8</text>
<line x1="42.30" y1="301.57" x2="45.50" y2="301.57" stroke="#2b2728" stroke-width="1.1"/>
<text x="40.20" y="304.74" font-size="9.2" text-anchor="end" fill="#231f20" font-weight="normal" font-style="normal">1.6</text>
<line x1="42.30" y1="275.91" x2="45.50" y2="275.91" stroke="#2b2728" stroke-width="1.1"/>
<text x="40.20" y="279.07" font-size="9.2" text-anchor="end" fill="#231f20" font-weight="normal" font-style="normal">2.4</text>
<text x="60.30" y="362.40" font-size="9.2" text-anchor="end" fill="#231f20" transform="rotate(-45 60.30 362.40)">Ctrl</text>
<text x="77.25" y="362.40" font-size="9.2" text-anchor="end" fill="#231f20" transform="rotate(-45 77.25 362.40)">Ang II</text>
<text x="94.55" y="362.40" font-size="9.2" text-anchor="end" fill="#231f20" transform="rotate(-45 94.55 362.40)">OxLDL</text>
<text x="111.65" y="362.40" font-size="9.2" text-anchor="end" fill="#231f20" transform="rotate(-45 111.65 362.40)">HG</text>
<text x="140.10" y="362.40" font-size="9.2" text-anchor="end" fill="#231f20" transform="rotate(-45 140.10 362.40)">Ctrl</text>
<text x="157.10" y="362.40" font-size="9.2" text-anchor="end" fill="#231f20" transform="rotate(-45 157.10 362.40)">Ang II</text>
<text x="174.30" y="362.40" font-size="9.2" text-anchor="end" fill="#231f20" transform="rotate(-45 174.30 362.40)">OxLDL</text>
<text x="191.40" y="362.40" font-size="9.2" text-anchor="end" fill="#231f20" transform="rotate(-45 191.40 362.40)">HG</text>
<text x="18.29" y="316.50" font-size="9.55" text-anchor="middle" fill="#231f20" transform="rotate(-90 18.29 316.50)">Relative <tspan font-style="italic">CTSB</tspan> mRNA</text>
<path d="M56.80,278.70 V275.10 H73.70 V278.70" fill="none" stroke="#2b2728" stroke-width="1.1"/>
<text x="65.25" y="275.90" font-size="9" text-anchor="middle" fill="#231f20">**</text>
<path d="M56.80,268.50 V264.90 H91.00 V268.50" fill="none" stroke="#2b2728" stroke-width="1.1"/>
<text x="73.90" y="265.70" font-size="9" text-anchor="middle" fill="#231f20">**</text>
<path d="M56.80,258.90 V255.30 H108.10 V258.90" fill="none" stroke="#2b2728" stroke-width="1.1"/>
<text x="82.45" y="256.10" font-size="9" text-anchor="middle" fill="#231f20">**</text>
<text x="229.00" y="244.50" font-size="15.2" text-anchor="start" fill="#000" font-weight="bold" font-style="normal">e</text>
<text x="259.50" y="247.29" font-size="9.55" text-anchor="start" fill="#231f20" font-weight="normal" font-style="normal">5'</text>
<line x1="268.20" y1="243.80" x2="281.80" y2="243.80" stroke="#231f20" stroke-width="1.2"/>
<path d="M281.8,237 H349 V233.5 L354.3,243.8 L349,254.3 V250.6 H281.8 Z" fill="#fff" stroke="#111" stroke-width="1.2"/>
<text x="284.3" y="247.29" font-size="9.55" fill="#231f20"><tspan font-style="italic">CTSB</tspan> promoter</text>
<line x1="354.30" y1="243.80" x2="361.60" y2="243.80" stroke="#231f20" stroke-width="1.2"/>
<rect x="361.6" y="237" width="46" height="13.6" fill="#fff" stroke="#111" stroke-width="1.2"/>
<text x="384.60" y="247.29" font-size="9.55" text-anchor="middle" fill="#231f20" font-weight="normal" font-style="normal">Luciferase</text>
<line x1="407.60" y1="243.80" x2="418.80" y2="243.80" stroke="#231f20" stroke-width="1.2"/>
<text x="421.50" y="247.29" font-size="9.55" text-anchor="start" fill="#231f20" font-weight="normal" font-style="normal">3'</text>
<rect x="252.80" y="263.20" width="20.80" height="2.6" fill="#fff" stroke="#3a4ea6" stroke-width="1"/>
<text x="285.50" y="267.79" font-size="9.55" text-anchor="start" fill="#231f20" font-weight="normal" font-style="normal">CTSB-WT</text>
<rect x="338.70" y="263.20" width="20.10" height="2.6" fill="#fff" stroke="#e5392e" stroke-width="1"/>
<text x="371.30" y="267.79" font-size="9.55" text-anchor="start" fill="#231f20" font-weight="normal" font-style="normal">CTSB-MUT</text>
<line x1="293.00" y1="305.83" x2="293.00" y2="304.28" stroke="#231f20" stroke-width="1.3"/>
<line x1="290.10" y1="304.28" x2="295.90" y2="304.28" stroke="#231f20" stroke-width="1.2"/>
<rect x="287.45" y="305.83" width="11.10" height="51.67" fill="#fff" stroke="#3a4ea6" stroke-width="1.2"/>
<line x1="293.00" y1="357.50" x2="293.00" y2="360.30" stroke="#2b2728" stroke-width="1.1"/>
<line x1="310.20" y1="306.86" x2="310.20" y2="294.98" stroke="#231f20" stroke-width="1.3"/>
<line x1="307.30" y1="294.98" x2="313.10" y2="294.98" stroke="#231f20" stroke-width="1.2"/>
<rect x="304.85" y="306.86" width="10.70" height="50.64" fill="#fff" stroke="#3a4ea6" stroke-width="1.2"/>
<line x1="310.20" y1="357.50" x2="310.20" y2="360.30" stroke="#2b2728" stroke-width="1.1"/>
<line x1="327.60" y1="301.18" x2="327.60" y2="294.46" stroke="#231f20" stroke-width="1.3"/>
<line x1="324.70" y1="294.46" x2="330.50" y2="294.46" stroke="#231f20" stroke-width="1.2"/>
<rect x="322.25" y="301.18" width="10.70" height="56.32" fill="#fff" stroke="#3a4ea6" stroke-width="1.2"/>
<line x1="327.60" y1="357.50" x2="327.60" y2="360.30" stroke="#2b2728" stroke-width="1.1"/>
<line x1="344.80" y1="303.25" x2="344.80" y2="294.72" stroke="#231f20" stroke-width="1.3"/>
<line x1="341.90" y1="294.72" x2="347.70" y2="294.72" stroke="#231f20" stroke-width="1.2"/>
<rect x="339.15" y="303.25" width="11.30" height="54.25" fill="#fff" stroke="#3a4ea6" stroke-width="1.2"/>
<line x1="344.80" y1="357.50" x2="344.80" y2="360.30" stroke="#2b2728" stroke-width="1.1"/>
<line x1="373.10" y1="310.33" x2="373.10" y2="303.50" stroke="#231f20" stroke-width="1.3"/>
<line x1="370.20" y1="303.50" x2="376.00" y2="303.50" stroke="#231f20" stroke-width="1.2"/>
<rect x="367.75" y="310.33" width="10.70" height="47.17" fill="#fff" stroke="#e5392e" stroke-width="1.2"/>
<line x1="373.10" y1="357.50" x2="373.10" y2="360.30" stroke="#2b2728" stroke-width="1.1"/>
<line x1="390.00" y1="312.50" x2="390.00" y2="301.18" stroke="#231f20" stroke-width="1.3"/>
<line x1="387.10" y1="301.18" x2="392.90" y2="301.18" stroke="#231f20" stroke-width="1.2"/>
<rect x="384.65" y="312.50" width="10.70" height="45.00" fill="#fff" stroke="#e5392e" stroke-width="1.2"/>
<line x1="390.00" y1="357.50" x2="390.00" y2="360.30" stroke="#2b2728" stroke-width="1.1"/>
<line x1="407.40" y1="305.83" x2="407.40" y2="295.19" stroke="#231f20" stroke-width="1.3"/>
<line x1="404.50" y1="295.19" x2="410.30" y2="295.19" stroke="#231f20" stroke-width="1.2"/>
<rect x="402.05" y="305.83" width="10.70" height="51.67" fill="#fff" stroke="#e5392e" stroke-width="1.2"/>
<line x1="407.40" y1="357.50" x2="407.40" y2="360.30" stroke="#2b2728" stroke-width="1.1"/>
<line x1="424.60" y1="305.11" x2="424.60" y2="298.70" stroke="#231f20" stroke-width="1.3"/>
<line x1="421.70" y1="298.70" x2="427.50" y2="298.70" stroke="#231f20" stroke-width="1.2"/>
<rect x="419.45" y="305.11" width="10.30" height="52.39" fill="#fff" stroke="#e5392e" stroke-width="1.2"/>
<line x1="424.60" y1="357.50" x2="424.60" y2="360.30" stroke="#2b2728" stroke-width="1.1"/>
<line x1="281.40" y1="280.00" x2="281.40" y2="358.05" stroke="#2b2728" stroke-width="1.2"/>
<line x1="278.20" y1="357.50" x2="436.70" y2="357.50" stroke="#2b2728" stroke-width="1.25"/>
<line x1="278.20" y1="357.50" x2="281.40" y2="357.50" stroke="#2b2728" stroke-width="1.1"/>
<text x="276.10" y="360.66" font-size="9.2" text-anchor="end" fill="#231f20" font-weight="normal" font-style="normal">0.0</text>
<line x1="278.20" y1="331.67" x2="281.40" y2="331.67" stroke="#2b2728" stroke-width="1.1"/>
<text x="276.10" y="334.83" font-size="9.2" text-anchor="end" fill="#231f20" font-weight="normal" font-style="normal">0.5</text>
<line x1="278.20" y1="305.83" x2="281.40" y2="305.83" stroke="#2b2728" stroke-width="1.1"/>
<text x="276.10" y="308.99" font-size="9.2" text-anchor="end" fill="#231f20" font-weight="normal" font-style="normal">1.0</text>
<line x1="278.20" y1="280.00" x2="281.40" y2="280.00" stroke="#2b2728" stroke-width="1.1"/>
<text x="276.10" y="283.16" font-size="9.2" text-anchor="end" fill="#231f20" font-weight="normal" font-style="normal">1.5</text>
<text x="296.50" y="367.00" font-size="9.2" text-anchor="end" fill="#231f20" transform="rotate(-45 296.50 367.00)">Ctrl</text>
<text x="313.70" y="367.00" font-size="9.2" text-anchor="end" fill="#231f20" transform="rotate(-45 313.70 367.00)">Ang II</text>
<text x="331.10" y="367.00" font-size="9.2" text-anchor="end" fill="#231f20" transform="rotate(-45 331.10 367.00)">OxLDL</text>
<text x="348.30" y="367.00" font-size="9.2" text-anchor="end" fill="#231f20" transform="rotate(-45 348.30 367.00)">HG</text>
<text x="376.60" y="367.00" font-size="9.2" text-anchor="end" fill="#231f20" transform="rotate(-45 376.60 367.00)">Ctrl</text>
<text x="393.50" y="367.00" font-size="9.2" text-anchor="end" fill="#231f20" transform="rotate(-45 393.50 367.00)">Ang II</text>
<text x="410.90" y="367.00" font-size="9.2" text-anchor="end" fill="#231f20" transform="rotate(-45 410.90 367.00)">OxLDL</text>
<text x="428.10" y="367.00" font-size="9.2" text-anchor="end" fill="#231f20" transform="rotate(-45 428.10 367.00)">HG</text>
<text x="253.89" y="323.50" font-size="9.55" text-anchor="middle" fill="#231f20" transform="rotate(-90 253.89 323.50)">RLU (Flod changes)</text>
<text x="470.40" y="245.00" font-size="15.2" text-anchor="start" fill="#000" font-weight="bold" font-style="normal">f</text>
<text x="524.20" y="245.09" font-size="9.55" text-anchor="start" fill="#231f20" font-weight="normal" font-style="normal">ActD</text>
<line x1="518.50" y1="246.80" x2="518.50" y2="363.05" stroke="#2b2728" stroke-width="1.2"/>
<line x1="518.50" y1="362.50" x2="634.60" y2="362.50" stroke="#2b2728" stroke-width="1.2"/>
<line x1="515.30" y1="362.50" x2="518.50" y2="362.50" stroke="#2b2728" stroke-width="1.1"/>
<text x="513.20" y="365.66" font-size="9.2" text-anchor="end" fill="#231f20" font-weight="normal" font-style="normal">0.0</text>
<line x1="515.30" y1="314.30" x2="518.50" y2="314.30" stroke="#2b2728" stroke-width="1.1"/>
<text x="513.20" y="317.46" font-size="9.2" text-anchor="end" fill="#231f20" font-weight="normal" font-style="normal">0.5</text>
<line x1="515.30" y1="266.10" x2="518.50" y2="266.10" stroke="#2b2728" stroke-width="1.1"/>
<text x="513.20" y="269.26" font-size="9.2" text-anchor="end" fill="#231f20" font-weight="normal" font-style="normal">1.0</text>
<line x1="527.20" y1="362.50" x2="527.20" y2="365.30" stroke="#2b2728" stroke-width="1.1"/>
<text x="527.20" y="377.26" font-size="9.2" text-anchor="middle" fill="#231f20" font-weight="normal" font-style="normal">0</text>
<line x1="553.80" y1="362.50" x2="553.80" y2="365.30" stroke="#2b2728" stroke-width="1.1"/>
<text x="553.80" y="377.26" font-size="9.2" text-anchor="middle" fill="#231f20" font-weight="normal" font-style="normal">6</text>
<line x1="580.40" y1="362.50" x2="580.40" y2="365.30" stroke="#2b2728" stroke-width="1.1"/>
<text x="580.40" y="377.26" font-size="9.2" text-anchor="middle" fill="#231f20" font-weight="normal" font-style="normal">12</text>
<line x1="607.00" y1="362.50" x2="607.00" y2="365.30" stroke="#2b2728" stroke-width="1.1"/>
<text x="607.00" y="377.26" font-size="9.2" text-anchor="middle" fill="#231f20" font-weight="normal" font-style="normal">18</text>
<line x1="633.60" y1="362.50" x2="633.60" y2="365.30" stroke="#2b2728" stroke-width="1.1"/>
<text x="633.60" y="377.26" font-size="9.2" text-anchor="middle" fill="#231f20" font-weight="normal" font-style="normal">24</text>
<text x="580.40" y="387.66" font-size="9.2" text-anchor="middle" fill="#231f20" font-weight="normal" font-style="normal">Hours</text>
<line x1="518.50" y1="314.30" x2="634.60" y2="314.30" stroke="#111" stroke-width="1.25" stroke-dasharray="3,2"/>
<line x1="527.20" y1="263.21" x2="633.60" y2="338.40" stroke="#3a4ea6" stroke-width="1.3" stroke-dasharray="3,1.8"/>
<line x1="527.20" y1="266.10" x2="633.60" y2="340.33" stroke="#e5392e" stroke-width="1.3" stroke-dasharray="3,1.8"/>
<line x1="527.20" y1="266.10" x2="527.20" y2="263.21" stroke="#231f20" stroke-width="1.0"/>
<line x1="524.90" y1="263.21" x2="529.50" y2="263.21" stroke="#231f20" stroke-width="1.1"/>
<circle cx="527.20" cy="266.10" r="2.4" fill="#3a4ea6"/>
<line x1="553.80" y1="275.74" x2="553.80" y2="268.99" stroke="#231f20" stroke-width="1.0"/>
<line x1="551.50" y1="268.99" x2="556.10" y2="268.99" stroke="#231f20" stroke-width="1.1"/>
<circle cx="553.80" cy="275.74" r="2.4" fill="#3a4ea6"/>
<line x1="580.40" y1="297.91" x2="580.40" y2="295.98" stroke="#231f20" stroke-width="1.0"/>
<line x1="578.10" y1="295.98" x2="582.70" y2="295.98" stroke="#231f20" stroke-width="1.1"/>
<circle cx="580.40" cy="297.91" r="2.4" fill="#3a4ea6"/>
<line x1="633.60" y1="338.40" x2="633.60" y2="337.44" stroke="#231f20" stroke-width="1.0"/>
<line x1="631.30" y1="337.44" x2="635.90" y2="337.44" stroke="#231f20" stroke-width="1.1"/>
<circle cx="633.60" cy="338.40" r="2.4" fill="#3a4ea6"/>
<path d="M527.20,261.37 L529.86,266.27 L524.54,266.27 Z" fill="#e5392e"/>
<line x1="553.80" y1="283.45" x2="553.80" y2="281.52" stroke="#231f20" stroke-width="1.0"/>
<line x1="551.50" y1="281.52" x2="556.10" y2="281.52" stroke="#231f20" stroke-width="1.1"/>
<path d="M553.80,280.65 L556.46,285.55 L551.14,285.55 Z" fill="#e5392e"/>
<path d="M580.40,298.00 L583.06,302.90 L577.74,302.90 Z" fill="#e5392e"/>
<path d="M633.60,337.53 L636.26,342.43 L630.94,342.43 Z" fill="#e5392e"/>
<line x1="569.90" y1="249.00" x2="590.90" y2="249.00" stroke="#3a4ea6" stroke-width="1.3" stroke-dasharray="3,1.8"/>
<circle cx="580.40" cy="249.00" r="2.3" fill="#3a4ea6"/>
<text x="602.70" y="252.29" font-size="9.55" text-anchor="start" fill="#231f20" font-weight="normal" font-style="normal">CTSB-WT</text>
<line x1="569.90" y1="261.60" x2="590.90" y2="261.60" stroke="#e5392e" stroke-width="1.3" stroke-dasharray="3,1.8"/>
<path d="M580.40,259.00 L582.87,263.55 L577.93,263.55 Z" fill="#e5392e"/>
<text x="602.70" y="264.89" font-size="9.55" text-anchor="start" fill="#231f20" font-weight="normal" font-style="normal">CTSB-MUT</text>
<text x="590.10" y="295.40" font-size="9.6" fill="#3a4ea6">t<tspan font-size="6.53" dy="3.1">1/2</tspan><tspan dy="-3.1"> = 16.9 h</tspan></text>
<text x="548.30" y="327.50" font-size="9.6" fill="#e5392e">t<tspan font-size="6.53" dy="3.1">1/2</tspan><tspan dy="-3.1"> = 16.1 h</tspan></text>
<text x="490.99" y="307.50" font-size="9.55" text-anchor="middle" fill="#231f20" transform="rotate(-90 490.99 307.50)">Relative <tspan font-style="italic">CTSB</tspan> mRNA</text>
<text x="5.30" y="402.00" font-size="15.2" text-anchor="start" fill="#000" font-weight="bold" font-style="normal">g</text>
<text x="60.40" y="406.39" font-size="9.55" text-anchor="start" fill="#231f20" font-weight="normal" font-style="normal">Ang II + ActD</text>
<line x1="56.60" y1="409.30" x2="56.60" y2="525.55" stroke="#2b2728" stroke-width="1.2"/>
<line x1="56.60" y1="525.00" x2="172.90" y2="525.00" stroke="#2b2728" stroke-width="1.2"/>
<line x1="53.40" y1="525.00" x2="56.60" y2="525.00" stroke="#2b2728" stroke-width="1.1"/>
<text x="51.30" y="528.16" font-size="9.2" text-anchor="end" fill="#231f20" font-weight="normal" font-style="normal">0.0</text>
<line x1="53.40" y1="477.00" x2="56.60" y2="477.00" stroke="#2b2728" stroke-width="1.1"/>
<text x="51.30" y="480.16" font-size="9.2" text-anchor="end" fill="#231f20" font-weight="normal" font-style="normal">0.5</text>
<line x1="53.40" y1="429.00" x2="56.60" y2="429.00" stroke="#2b2728" stroke-width="1.1"/>
<text x="51.30" y="432.16" font-size="9.2" text-anchor="end" fill="#231f20" font-weight="normal" font-style="normal">1.0</text>
<line x1="65.10" y1="525.00" x2="65.10" y2="527.80" stroke="#2b2728" stroke-width="1.1"/>
<text x="65.10" y="539.36" font-size="9.2" text-anchor="middle" fill="#231f20" font-weight="normal" font-style="normal">0</text>
<line x1="91.77" y1="525.00" x2="91.77" y2="527.80" stroke="#2b2728" stroke-width="1.1"/>
<text x="91.77" y="539.36" font-size="9.2" text-anchor="middle" fill="#231f20" font-weight="normal" font-style="normal">6</text>
<line x1="118.45" y1="525.00" x2="118.45" y2="527.80" stroke="#2b2728" stroke-width="1.1"/>
<text x="118.45" y="539.36" font-size="9.2" text-anchor="middle" fill="#231f20" font-weight="normal" font-style="normal">12</text>
<line x1="145.12" y1="525.00" x2="145.12" y2="527.80" stroke="#2b2728" stroke-width="1.1"/>
<text x="145.12" y="539.36" font-size="9.2" text-anchor="middle" fill="#231f20" font-weight="normal" font-style="normal">18</text>
<line x1="171.80" y1="525.00" x2="171.80" y2="527.80" stroke="#2b2728" stroke-width="1.1"/>
<text x="171.80" y="539.36" font-size="9.2" text-anchor="middle" fill="#231f20" font-weight="normal" font-style="normal">24</text>
<text x="118.45" y="550.86" font-size="9.2" text-anchor="middle" fill="#231f20" font-weight="normal" font-style="normal">Hours</text>
<line x1="56.60" y1="477.00" x2="172.90" y2="477.00" stroke="#111" stroke-width="1.25" stroke-dasharray="3,2"/>
<line x1="65.10" y1="432.84" x2="171.80" y2="472.20" stroke="#3a4ea6" stroke-width="1.3" stroke-dasharray="3,1.8"/>
<line x1="65.10" y1="436.68" x2="171.80" y2="504.84" stroke="#e5392e" stroke-width="1.3" stroke-dasharray="3,1.8"/>
<line x1="65.10" y1="429.00" x2="65.10" y2="425.16" stroke="#231f20" stroke-width="1.0"/>
<line x1="62.80" y1="425.16" x2="67.40" y2="425.16" stroke="#231f20" stroke-width="1.1"/>
<circle cx="65.10" cy="429.00" r="2.4" fill="#3a4ea6"/>
<line x1="91.77" y1="444.36" x2="91.77" y2="438.60" stroke="#231f20" stroke-width="1.0"/>
<line x1="89.47" y1="438.60" x2="94.07" y2="438.60" stroke="#231f20" stroke-width="1.1"/>
<circle cx="91.77" cy="444.36" r="2.4" fill="#3a4ea6"/>
<line x1="118.45" y1="455.88" x2="118.45" y2="453.00" stroke="#231f20" stroke-width="1.0"/>
<line x1="116.15" y1="453.00" x2="120.75" y2="453.00" stroke="#231f20" stroke-width="1.1"/>
<circle cx="118.45" cy="455.88" r="2.4" fill="#3a4ea6"/>
<line x1="171.80" y1="471.24" x2="171.80" y2="468.36" stroke="#231f20" stroke-width="1.0"/>
<line x1="169.50" y1="468.36" x2="174.10" y2="468.36" stroke="#231f20" stroke-width="1.1"/>
<circle cx="171.80" cy="471.24" r="2.4" fill="#3a4ea6"/>
<line x1="65.10" y1="439.56" x2="65.10" y2="435.72" stroke="#231f20" stroke-width="1.0"/>
<line x1="62.80" y1="435.72" x2="67.40" y2="435.72" stroke="#231f20" stroke-width="1.1"/>
<path d="M65.10,436.76 L67.76,441.66 L62.44,441.66 Z" fill="#e5392e"/>
<path d="M91.77,449.24 L94.43,454.14 L89.11,454.14 Z" fill="#e5392e"/>
<line x1="118.45" y1="470.28" x2="118.45" y2="465.48" stroke="#231f20" stroke-width="1.0"/>
<line x1="116.15" y1="465.48" x2="120.75" y2="465.48" stroke="#231f20" stroke-width="1.1"/>
<path d="M118.45,467.48 L121.11,472.38 L115.79,472.38 Z" fill="#e5392e"/>
<line x1="171.80" y1="504.84" x2="171.80" y2="501.96" stroke="#231f20" stroke-width="1.0"/>
<line x1="169.50" y1="501.96" x2="174.10" y2="501.96" stroke="#231f20" stroke-width="1.1"/>
<path d="M171.80,502.04 L174.46,506.94 L169.14,506.94 Z" fill="#e5392e"/>
<line x1="105.50" y1="415.70" x2="126.50" y2="415.70" stroke="#3a4ea6" stroke-width="1.3" stroke-dasharray="3,1.8"/>
<circle cx="116.00" cy="415.70" r="2.3" fill="#3a4ea6"/>
<text x="138.30" y="418.99" font-size="9.55" text-anchor="start" fill="#231f20" font-weight="normal" font-style="normal">CTSB-WT</text>
<line x1="105.50" y1="429.00" x2="126.50" y2="429.00" stroke="#e5392e" stroke-width="1.3" stroke-dasharray="3,1.8"/>
<path d="M116.00,426.40 L118.47,430.95 L113.53,430.95 Z" fill="#e5392e"/>
<text x="138.30" y="432.29" font-size="9.55" text-anchor="start" fill="#231f20" font-weight="normal" font-style="normal">CTSB-MUT</text>
<text x="129.40" y="450.10" font-size="9.6" fill="#3a4ea6">t<tspan font-size="6.53" dy="3.1">1/2</tspan><tspan dy="-3.1"> = 26.0 h</tspan></text>
<text x="82.30" y="491.80" font-size="9.6" fill="#e5392e">t<tspan font-size="6.53" dy="3.1">1/2</tspan><tspan dy="-3.1"> = 14.4 h</tspan></text>
<text x="28.49" y="470.00" font-size="9.55" text-anchor="middle" fill="#231f20" transform="rotate(-90 28.49 470.00)">Relative <tspan font-style="italic">CTSB</tspan> mRNA</text>
<text x="246.20" y="407.90" font-size="15.2" text-anchor="start" fill="#000" font-weight="bold" font-style="normal">h</text>
<text x="302.60" y="408.09" font-size="9.55" text-anchor="start" fill="#231f20" font-weight="normal" font-style="normal">OxLDL + ActD</text>
<line x1="298.50" y1="410.20" x2="298.50" y2="526.15" stroke="#2b2728" stroke-width="1.2"/>
<line x1="298.50" y1="525.60" x2="414.70" y2="525.60" stroke="#2b2728" stroke-width="1.2"/>
<line x1="295.30" y1="525.60" x2="298.50" y2="525.60" stroke="#2b2728" stroke-width="1.1"/>
<text x="293.20" y="528.76" font-size="9.2" text-anchor="end" fill="#231f20" font-weight="normal" font-style="normal">0.0</text>
<line x1="295.30" y1="477.80" x2="298.50" y2="477.80" stroke="#2b2728" stroke-width="1.1"/>
<text x="293.20" y="480.96" font-size="9.2" text-anchor="end" fill="#231f20" font-weight="normal" font-style="normal">0.5</text>
<line x1="295.30" y1="430.00" x2="298.50" y2="430.00" stroke="#2b2728" stroke-width="1.1"/>
<text x="293.20" y="433.16" font-size="9.2" text-anchor="end" fill="#231f20" font-weight="normal" font-style="normal">1.0</text>
<line x1="307.30" y1="525.60" x2="307.30" y2="528.40" stroke="#2b2728" stroke-width="1.1"/>
<text x="307.30" y="540.36" font-size="9.2" text-anchor="middle" fill="#231f20" font-weight="normal" font-style="normal">0</text>
<line x1="334.02" y1="525.60" x2="334.02" y2="528.40" stroke="#2b2728" stroke-width="1.1"/>
<text x="334.02" y="540.36" font-size="9.2" text-anchor="middle" fill="#231f20" font-weight="normal" font-style="normal">6</text>
<line x1="360.75" y1="525.60" x2="360.75" y2="528.40" stroke="#2b2728" stroke-width="1.1"/>
<text x="360.75" y="540.36" font-size="9.2" text-anchor="middle" fill="#231f20" font-weight="normal" font-style="normal">12</text>
<line x1="387.48" y1="525.60" x2="387.48" y2="528.40" stroke="#2b2728" stroke-width="1.1"/>
<text x="387.48" y="540.36" font-size="9.2" text-anchor="middle" fill="#231f20" font-weight="normal" font-style="normal">18</text>
<line x1="414.20" y1="525.60" x2="414.20" y2="528.40" stroke="#2b2728" stroke-width="1.1"/>
<text x="414.20" y="540.36" font-size="9.2" text-anchor="middle" fill="#231f20" font-weight="normal" font-style="normal">24</text>
<text x="360.75" y="551.46" font-size="9.2" text-anchor="middle" fill="#231f20" font-weight="normal" font-style="normal">Hours</text>
<line x1="298.50" y1="477.80" x2="414.70" y2="477.80" stroke="#111" stroke-width="1.25" stroke-dasharray="3,2"/>
<line x1="307.30" y1="430.00" x2="414.20" y2="469.20" stroke="#3a4ea6" stroke-width="1.3" stroke-dasharray="3,1.8"/>
<line x1="307.30" y1="437.65" x2="414.20" y2="504.57" stroke="#e5392e" stroke-width="1.3" stroke-dasharray="3,1.8"/>
<line x1="307.30" y1="430.00" x2="307.30" y2="421.40" stroke="#231f20" stroke-width="1.0"/>
<line x1="305.00" y1="421.40" x2="309.60" y2="421.40" stroke="#231f20" stroke-width="1.1"/>
<circle cx="307.30" cy="430.00" r="2.4" fill="#3a4ea6"/>
<line x1="334.02" y1="440.52" x2="334.02" y2="436.69" stroke="#231f20" stroke-width="1.0"/>
<line x1="331.72" y1="436.69" x2="336.32" y2="436.69" stroke="#231f20" stroke-width="1.1"/>
<circle cx="334.02" cy="440.52" r="2.4" fill="#3a4ea6"/>
<line x1="360.75" y1="451.03" x2="360.75" y2="447.21" stroke="#231f20" stroke-width="1.0"/>
<line x1="358.45" y1="447.21" x2="363.05" y2="447.21" stroke="#231f20" stroke-width="1.1"/>
<circle cx="360.75" cy="451.03" r="2.4" fill="#3a4ea6"/>
<line x1="414.20" y1="469.20" x2="414.20" y2="466.33" stroke="#231f20" stroke-width="1.0"/>
<line x1="411.90" y1="466.33" x2="416.50" y2="466.33" stroke="#231f20" stroke-width="1.1"/>
<circle cx="414.20" cy="469.20" r="2.4" fill="#3a4ea6"/>
<path d="M307.30,431.02 L309.96,435.92 L304.64,435.92 Z" fill="#e5392e"/>
<line x1="334.02" y1="459.64" x2="334.02" y2="455.81" stroke="#231f20" stroke-width="1.0"/>
<line x1="331.72" y1="455.81" x2="336.32" y2="455.81" stroke="#231f20" stroke-width="1.1"/>
<path d="M334.02,456.84 L336.69,461.74 L331.36,461.74 Z" fill="#e5392e"/>
<line x1="360.75" y1="472.06" x2="360.75" y2="469.20" stroke="#231f20" stroke-width="1.0"/>
<line x1="358.45" y1="469.20" x2="363.05" y2="469.20" stroke="#231f20" stroke-width="1.1"/>
<path d="M360.75,469.26 L363.41,474.16 L358.09,474.16 Z" fill="#e5392e"/>
<path d="M414.20,501.77 L416.86,506.67 L411.54,506.67 Z" fill="#e5392e"/>
<line x1="348.00" y1="416.60" x2="369.00" y2="416.60" stroke="#3a4ea6" stroke-width="1.3" stroke-dasharray="3,1.8"/>
<circle cx="358.50" cy="416.60" r="2.3" fill="#3a4ea6"/>
<text x="380.70" y="419.89" font-size="9.55" text-anchor="start" fill="#231f20" font-weight="normal" font-style="normal">CTSB-WT</text>
<line x1="348.00" y1="430.00" x2="369.00" y2="430.00" stroke="#e5392e" stroke-width="1.3" stroke-dasharray="3,1.8"/>
<path d="M358.50,427.40 L360.97,431.95 L356.03,431.95 Z" fill="#e5392e"/>
<text x="380.70" y="433.29" font-size="9.55" text-anchor="start" fill="#231f20" font-weight="normal" font-style="normal">CTSB-MUT</text>
<text x="371.60" y="448.70" font-size="9.6" fill="#3a4ea6">t<tspan font-size="6.53" dy="3.1">1/2</tspan><tspan dy="-3.1"> = 29.0 h</tspan></text>
<text x="323.00" y="492.80" font-size="9.6" fill="#e5392e">t<tspan font-size="6.53" dy="3.1">1/2</tspan><tspan dy="-3.1"> = 14.3 h</tspan></text>
<text x="271.09" y="470.70" font-size="9.55" text-anchor="middle" fill="#231f20" transform="rotate(-90 271.09 470.70)">Relative <tspan font-style="italic">CTSB</tspan> mRNA</text>
<text x="487.10" y="407.90" font-size="15.2" text-anchor="start" fill="#000" font-weight="bold" font-style="normal">i</text>
<text x="539.80" y="408.09" font-size="9.55" text-anchor="start" fill="#231f20" font-weight="normal" font-style="normal">HG + ActD</text>
<line x1="536.10" y1="410.50" x2="536.10" y2="526.95" stroke="#2b2728" stroke-width="1.2"/>
<line x1="536.10" y1="526.40" x2="652.30" y2="526.40" stroke="#2b2728" stroke-width="1.2"/>
<line x1="532.90" y1="526.40" x2="536.10" y2="526.40" stroke="#2b2728" stroke-width="1.1"/>
<text x="530.80" y="529.56" font-size="9.2" text-anchor="end" fill="#231f20" font-weight="normal" font-style="normal">0.0</text>
<line x1="532.90" y1="478.20" x2="536.10" y2="478.20" stroke="#2b2728" stroke-width="1.1"/>
<text x="530.80" y="481.36" font-size="9.2" text-anchor="end" fill="#231f20" font-weight="normal" font-style="normal">0.5</text>
<line x1="532.90" y1="430.00" x2="536.10" y2="430.00" stroke="#2b2728" stroke-width="1.1"/>
<text x="530.80" y="433.16" font-size="9.2" text-anchor="end" fill="#231f20" font-weight="normal" font-style="normal">1.0</text>
<line x1="544.80" y1="526.40" x2="544.80" y2="529.20" stroke="#2b2728" stroke-width="1.1"/>
<text x="544.80" y="540.36" font-size="9.2" text-anchor="middle" fill="#231f20" font-weight="normal" font-style="normal">0</text>
<line x1="571.45" y1="526.40" x2="571.45" y2="529.20" stroke="#2b2728" stroke-width="1.1"/>
<text x="571.45" y="540.36" font-size="9.2" text-anchor="middle" fill="#231f20" font-weight="normal" font-style="normal">6</text>
<line x1="598.10" y1="526.40" x2="598.10" y2="529.20" stroke="#2b2728" stroke-width="1.1"/>
<text x="598.10" y="540.36" font-size="9.2" text-anchor="middle" fill="#231f20" font-weight="normal" font-style="normal">12</text>
<line x1="624.75" y1="526.40" x2="624.75" y2="529.20" stroke="#2b2728" stroke-width="1.1"/>
<text x="624.75" y="540.36" font-size="9.2" text-anchor="middle" fill="#231f20" font-weight="normal" font-style="normal">18</text>
<line x1="651.40" y1="526.40" x2="651.40" y2="529.20" stroke="#2b2728" stroke-width="1.1"/>
<text x="651.40" y="540.36" font-size="9.2" text-anchor="middle" fill="#231f20" font-weight="normal" font-style="normal">24</text>
<text x="598.10" y="551.76" font-size="9.2" text-anchor="middle" fill="#231f20" font-weight="normal" font-style="normal">Hours</text>
<line x1="536.10" y1="478.20" x2="652.30" y2="478.20" stroke="#111" stroke-width="1.25" stroke-dasharray="3,2"/>
<line x1="544.80" y1="434.53" x2="651.40" y2="477.24" stroke="#3a4ea6" stroke-width="1.3" stroke-dasharray="3,1.8"/>
<line x1="544.80" y1="442.15" x2="651.40" y2="510.01" stroke="#e5392e" stroke-width="1.3" stroke-dasharray="3,1.8"/>
<line x1="544.80" y1="430.00" x2="544.80" y2="427.11" stroke="#231f20" stroke-width="1.0"/>
<line x1="542.50" y1="427.11" x2="547.10" y2="427.11" stroke="#231f20" stroke-width="1.1"/>
<circle cx="544.80" cy="430.00" r="2.4" fill="#3a4ea6"/>
<line x1="571.45" y1="447.35" x2="571.45" y2="445.42" stroke="#231f20" stroke-width="1.0"/>
<line x1="569.15" y1="445.42" x2="573.75" y2="445.42" stroke="#231f20" stroke-width="1.1"/>
<circle cx="571.45" cy="447.35" r="2.4" fill="#3a4ea6"/>
<line x1="598.10" y1="460.85" x2="598.10" y2="456.99" stroke="#231f20" stroke-width="1.0"/>
<line x1="595.80" y1="456.99" x2="600.40" y2="456.99" stroke="#231f20" stroke-width="1.1"/>
<circle cx="598.10" cy="460.85" r="2.4" fill="#3a4ea6"/>
<circle cx="651.40" cy="475.31" r="2.4" fill="#3a4ea6"/>
<line x1="544.80" y1="439.64" x2="544.80" y2="436.75" stroke="#231f20" stroke-width="1.0"/>
<line x1="542.50" y1="436.75" x2="547.10" y2="436.75" stroke="#231f20" stroke-width="1.1"/>
<path d="M544.80,436.84 L547.46,441.74 L542.14,441.74 Z" fill="#e5392e"/>
<line x1="571.45" y1="459.88" x2="571.45" y2="456.99" stroke="#231f20" stroke-width="1.0"/>
<line x1="569.15" y1="456.99" x2="573.75" y2="456.99" stroke="#231f20" stroke-width="1.1"/>
<path d="M571.45,457.08 L574.11,461.98 L568.79,461.98 Z" fill="#e5392e"/>
<path d="M598.10,472.51 L600.76,477.41 L595.44,477.41 Z" fill="#e5392e"/>
<line x1="651.40" y1="510.01" x2="651.40" y2="507.12" stroke="#231f20" stroke-width="1.0"/>
<line x1="649.10" y1="507.12" x2="653.70" y2="507.12" stroke="#231f20" stroke-width="1.1"/>
<path d="M651.40,507.21 L654.06,512.11 L648.74,512.11 Z" fill="#e5392e"/>
<line x1="585.00" y1="416.90" x2="606.00" y2="416.90" stroke="#3a4ea6" stroke-width="1.3" stroke-dasharray="3,1.8"/>
<circle cx="595.50" cy="416.90" r="2.3" fill="#3a4ea6"/>
<text x="617.80" y="420.19" font-size="9.55" text-anchor="start" fill="#231f20" font-weight="normal" font-style="normal">CTSB-WT</text>
<line x1="585.00" y1="430.00" x2="606.00" y2="430.00" stroke="#e5392e" stroke-width="1.3" stroke-dasharray="3,1.8"/>
<path d="M595.50,427.40 L597.97,431.95 L593.03,431.95 Z" fill="#e5392e"/>
<text x="617.80" y="433.29" font-size="9.55" text-anchor="start" fill="#231f20" font-weight="normal" font-style="normal">CTSB-MUT</text>
<text x="601.90" y="452.90" font-size="9.6" fill="#3a4ea6">t<tspan font-size="6.53" dy="3.1">1/2</tspan><tspan dy="-3.1"> = 24.2 h</tspan></text>
<text x="555.00" y="492.50" font-size="9.6" fill="#e5392e">t<tspan font-size="6.53" dy="3.1">1/2</tspan><tspan dy="-3.1"> = 13.0 h</tspan></text>
<text x="508.69" y="470.70" font-size="9.55" text-anchor="middle" fill="#231f20" transform="rotate(-90 508.69 470.70)">Relative <tspan font-style="italic">CTSB</tspan> mRNA</text>
<text x="10.80" y="567.70" font-size="15.2" text-anchor="start" fill="#000" font-weight="bold" font-style="normal">j</text>
<rect x="28.50" y="563.10" width="21.00" height="2.6" fill="#fff" stroke="#3a4ea6" stroke-width="1"/>
<text x="61.30" y="567.99" font-size="9.55" text-anchor="start" fill="#231f20" font-weight="normal" font-style="normal">Vec</text>
<rect x="87.60" y="563.10" width="21.20" height="2.6" fill="#fff" stroke="#e5392e" stroke-width="1"/>
<text x="120.90" y="568.09" font-size="9.55" text-anchor="start" fill="#231f20" font-weight="normal" font-style="normal">CTSB (WT)</text>
<line x1="54.95" y1="643.80" x2="54.95" y2="642.77" stroke="#231f20" stroke-width="1.3"/>
<line x1="52.05" y1="642.77" x2="57.85" y2="642.77" stroke="#231f20" stroke-width="1.2"/>
<rect x="49.65" y="643.80" width="10.60" height="25.75" fill="#fff" stroke="#3a4ea6" stroke-width="1.2"/>
<line x1="54.95" y1="669.55" x2="54.95" y2="672.35" stroke="#2b2728" stroke-width="1.1"/>
<line x1="72.45" y1="643.03" x2="72.45" y2="639.42" stroke="#231f20" stroke-width="1.3"/>
<line x1="69.55" y1="639.42" x2="75.35" y2="639.42" stroke="#231f20" stroke-width="1.2"/>
<rect x="66.95" y="643.03" width="11.00" height="26.52" fill="#fff" stroke="#3a4ea6" stroke-width="1.2"/>
<line x1="72.45" y1="669.55" x2="72.45" y2="672.35" stroke="#2b2728" stroke-width="1.1"/>
<line x1="89.85" y1="642.25" x2="89.85" y2="639.42" stroke="#231f20" stroke-width="1.3"/>
<line x1="86.95" y1="639.42" x2="92.75" y2="639.42" stroke="#231f20" stroke-width="1.2"/>
<rect x="84.45" y="642.25" width="10.80" height="27.29" fill="#fff" stroke="#3a4ea6" stroke-width="1.2"/>
<line x1="89.85" y1="669.55" x2="89.85" y2="672.35" stroke="#2b2728" stroke-width="1.1"/>
<line x1="106.85" y1="645.86" x2="106.85" y2="644.31" stroke="#231f20" stroke-width="1.3"/>
<line x1="103.95" y1="644.31" x2="109.75" y2="644.31" stroke="#231f20" stroke-width="1.2"/>
<rect x="101.75" y="645.86" width="10.20" height="23.69" fill="#fff" stroke="#3a4ea6" stroke-width="1.2"/>
<line x1="106.85" y1="669.55" x2="106.85" y2="672.35" stroke="#2b2728" stroke-width="1.1"/>
<line x1="135.20" y1="645.09" x2="135.20" y2="644.06" stroke="#231f20" stroke-width="1.3"/>
<line x1="132.30" y1="644.06" x2="138.10" y2="644.06" stroke="#231f20" stroke-width="1.2"/>
<rect x="129.95" y="645.09" width="10.50" height="24.46" fill="#fff" stroke="#e5392e" stroke-width="1.2"/>
<line x1="135.20" y1="669.55" x2="135.20" y2="672.35" stroke="#2b2728" stroke-width="1.1"/>
<line x1="152.35" y1="611.61" x2="152.35" y2="604.92" stroke="#231f20" stroke-width="1.3"/>
<line x1="149.45" y1="604.92" x2="155.25" y2="604.92" stroke="#231f20" stroke-width="1.2"/>
<rect x="147.05" y="611.61" width="10.60" height="57.94" fill="#fff" stroke="#e5392e" stroke-width="1.2"/>
<line x1="152.35" y1="669.55" x2="152.35" y2="672.35" stroke="#2b2728" stroke-width="1.1"/>
<line x1="169.60" y1="615.47" x2="169.60" y2="609.81" stroke="#231f20" stroke-width="1.3"/>
<line x1="166.70" y1="609.81" x2="172.50" y2="609.81" stroke="#231f20" stroke-width="1.2"/>
<rect x="164.25" y="615.47" width="10.70" height="54.08" fill="#fff" stroke="#e5392e" stroke-width="1.2"/>
<line x1="169.60" y1="669.55" x2="169.60" y2="672.35" stroke="#2b2728" stroke-width="1.1"/>
<line x1="186.80" y1="615.22" x2="186.80" y2="607.49" stroke="#231f20" stroke-width="1.3"/>
<line x1="183.90" y1="607.49" x2="189.70" y2="607.49" stroke="#231f20" stroke-width="1.2"/>
<rect x="181.45" y="615.22" width="10.70" height="54.33" fill="#fff" stroke="#e5392e" stroke-width="1.2"/>
<line x1="186.80" y1="669.55" x2="186.80" y2="672.35" stroke="#2b2728" stroke-width="1.1"/>
<line x1="44.00" y1="592.40" x2="44.00" y2="670.10" stroke="#2b2728" stroke-width="1.2"/>
<line x1="40.80" y1="669.55" x2="198.10" y2="669.55" stroke="#2b2728" stroke-width="1.25"/>
<line x1="40.80" y1="669.55" x2="44.00" y2="669.55" stroke="#2b2728" stroke-width="1.1"/>
<text x="38.70" y="672.71" font-size="9.2" text-anchor="end" fill="#231f20" font-weight="normal" font-style="normal">0</text>
<line x1="40.80" y1="643.80" x2="44.00" y2="643.80" stroke="#2b2728" stroke-width="1.1"/>
<text x="38.70" y="646.96" font-size="9.2" text-anchor="end" fill="#231f20" font-weight="normal" font-style="normal">1</text>
<line x1="40.80" y1="618.05" x2="44.00" y2="618.05" stroke="#2b2728" stroke-width="1.1"/>
<text x="38.70" y="621.21" font-size="9.2" text-anchor="end" fill="#231f20" font-weight="normal" font-style="normal">2</text>
<line x1="40.80" y1="592.30" x2="44.00" y2="592.30" stroke="#2b2728" stroke-width="1.1"/>
<text x="38.70" y="595.46" font-size="9.2" text-anchor="end" fill="#231f20" font-weight="normal" font-style="normal">3</text>
<text x="58.45" y="679.05" font-size="9.2" text-anchor="end" fill="#231f20" transform="rotate(-45 58.45 679.05)">Ctrl</text>
<text x="75.95" y="679.05" font-size="9.2" text-anchor="end" fill="#231f20" transform="rotate(-45 75.95 679.05)">Ang II</text>
<text x="93.35" y="679.05" font-size="9.2" text-anchor="end" fill="#231f20" transform="rotate(-45 93.35 679.05)">OxLDL</text>
<text x="110.35" y="679.05" font-size="9.2" text-anchor="end" fill="#231f20" transform="rotate(-45 110.35 679.05)">HG</text>
<text x="138.70" y="679.05" font-size="9.2" text-anchor="end" fill="#231f20" transform="rotate(-45 138.70 679.05)">Ctrl</text>
<text x="155.85" y="679.05" font-size="9.2" text-anchor="end" fill="#231f20" transform="rotate(-45 155.85 679.05)">Ang II</text>
<text x="173.10" y="679.05" font-size="9.2" text-anchor="end" fill="#231f20" transform="rotate(-45 173.10 679.05)">OxLDL</text>
<text x="190.30" y="679.05" font-size="9.2" text-anchor="end" fill="#231f20" transform="rotate(-45 190.30 679.05)">HG</text>
<text x="24.29" y="633.50" font-size="9.55" text-anchor="middle" fill="#231f20" transform="rotate(-90 24.29 633.50)">Relative <tspan font-style="italic">CTSB</tspan><tspan font-size="7.4" dy="-3.6" font-style="italic">endo</tspan><tspan dy="3.6"> mRNA</tspan></text>
<path d="M135.50,602.80 V599.20 H152.50 V602.80" fill="none" stroke="#2b2728" stroke-width="1.1"/>
<text x="144.00" y="600.00" font-size="9" text-anchor="middle" fill="#231f20">***</text>
<path d="M135.50,592.50 V588.90 H169.60 V592.50" fill="none" stroke="#2b2728" stroke-width="1.1"/>
<text x="152.55" y="589.70" font-size="9" text-anchor="middle" fill="#231f20">***</text>
<path d="M135.50,583.00 V579.40 H186.80 V583.00" fill="none" stroke="#2b2728" stroke-width="1.1"/>
<text x="161.15" y="580.20" font-size="9" text-anchor="middle" fill="#231f20">***</text>
<text x="119.50" y="712.79" font-size="9.55" text-anchor="middle" fill="#231f20" font-weight="normal" font-style="normal">in CTSB-MUT cells</text>
<text x="233.10" y="575.60" font-size="15.2" text-anchor="start" fill="#000" font-weight="bold" font-style="normal">k</text>
<text x="339.60" y="586.09" font-size="9.55" text-anchor="middle" fill="#231f20" font-weight="normal" font-style="normal">Vec</text>
<line x1="306.90" y1="588.30" x2="372.40" y2="588.30" stroke="#231f20" stroke-width="1.2"/>
<text x="418.00" y="586.09" font-size="9.55" text-anchor="middle" fill="#231f20" font-weight="normal" font-style="normal">CTSB (WT)</text>
<line x1="384.60" y1="588.30" x2="450.30" y2="588.30" stroke="#231f20" stroke-width="1.2"/>
<text x="312.50" y="613.00" font-size="9.55" text-anchor="middle" fill="#231f20" font-weight="normal" font-style="normal">Ctrl</text>
<text x="329.85" y="613.00" font-size="9.55" text-anchor="start" fill="#231f20" transform="rotate(-45 329.85 613.00)">Ang II</text>
<text x="348.20" y="613.00" font-size="9.55" text-anchor="start" fill="#231f20" transform="rotate(-45 348.20 613.00)">OxLDL</text>
<text x="366.55" y="613.00" font-size="9.55" text-anchor="start" fill="#231f20" transform="rotate(-45 366.55 613.00)">HG</text>
<text x="385.90" y="613.00" font-size="9.55" text-anchor="middle" fill="#231f20" font-weight="normal" font-style="normal">Ctrl</text>
<text x="403.25" y="613.00" font-size="9.55" text-anchor="start" fill="#231f20" transform="rotate(-45 403.25 613.00)">Ang II</text>
<text x="421.60" y="613.00" font-size="9.55" text-anchor="start" fill="#231f20" transform="rotate(-45 421.60 613.00)">OxLDL</text>
<text x="439.95" y="613.00" font-size="9.55" text-anchor="start" fill="#231f20" transform="rotate(-45 439.95 613.00)">HG</text>
<text x="451.30" y="611.99" font-size="9.55" text-anchor="start" fill="#231f20" font-weight="normal" font-style="normal">(KDa)</text>
<rect x="302.20" y="614.60" width="148.80" height="16.70" fill="#dedede" stroke="#111" stroke-width="1.4"/>
<rect x="306.25" y="620.45" width="13.50" height="5.00" rx="2.50" fill="#000" fill-opacity="0.40" filter="url(#bl2)"/>
<rect x="324.60" y="620.45" width="13.50" height="5.00" rx="2.50" fill="#000" fill-opacity="0.46" filter="url(#bl2)"/>
<rect x="342.95" y="620.45" width="13.50" height="5.00" rx="2.50" fill="#000" fill-opacity="0.42" filter="url(#bl2)"/>
<rect x="361.30" y="620.45" width="13.50" height="5.00" rx="2.50" fill="#000" fill-opacity="0.40" filter="url(#bl2)"/>
<rect x="379.65" y="620.45" width="13.50" height="5.00" rx="2.50" fill="#000" fill-opacity="0.48" filter="url(#bl2)"/>
<rect x="398.00" y="620.45" width="13.50" height="5.00" rx="2.50" fill="#000" fill-opacity="0.85" filter="url(#bl2)"/>
<rect x="416.35" y="620.45" width="13.50" height="5.00" rx="2.50" fill="#000" fill-opacity="0.80" filter="url(#bl2)"/>
<rect x="434.70" y="620.45" width="13.50" height="5.00" rx="2.50" fill="#000" fill-opacity="0.95" filter="url(#bl2)"/>
<rect x="302.20" y="634.70" width="148.80" height="16.80" fill="#e2e2e2" stroke="#111" stroke-width="1.4"/>
<rect x="379.40" y="641.60" width="14.00" height="3.60" rx="1.80" fill="#000" fill-opacity="0.75" filter="url(#bl2)"/>
<rect x="397.75" y="641.60" width="14.00" height="3.60" rx="1.80" fill="#000" fill-opacity="0.80" filter="url(#bl2)"/>
<rect x="416.10" y="641.60" width="14.00" height="3.60" rx="1.80" fill="#000" fill-opacity="0.75" filter="url(#bl2)"/>
<rect x="434.45" y="641.60" width="14.00" height="3.60" rx="1.80" fill="#000" fill-opacity="0.80" filter="url(#bl2)"/>
<rect x="302.20" y="654.80" width="148.80" height="16.80" fill="#dedede" stroke="#111" stroke-width="1.4"/>
<rect x="306.00" y="661.60" width="14.00" height="3.60" rx="1.80" fill="#000" fill-opacity="0.75" filter="url(#bl2)"/>
<rect x="324.35" y="661.60" width="14.00" height="3.60" rx="1.80" fill="#000" fill-opacity="0.75" filter="url(#bl2)"/>
<rect x="342.70" y="661.60" width="14.00" height="3.60" rx="1.80" fill="#000" fill-opacity="0.75" filter="url(#bl2)"/>
<rect x="361.05" y="661.60" width="14.00" height="3.60" rx="1.80" fill="#000" fill-opacity="0.75" filter="url(#bl2)"/>
<rect x="379.40" y="661.60" width="14.00" height="3.60" rx="1.80" fill="#000" fill-opacity="0.75" filter="url(#bl2)"/>
<rect x="397.75" y="661.60" width="14.00" height="3.60" rx="1.80" fill="#000" fill-opacity="0.75" filter="url(#bl2)"/>
<rect x="416.10" y="661.60" width="14.00" height="3.60" rx="1.80" fill="#000" fill-opacity="0.75" filter="url(#bl2)"/>
<rect x="434.45" y="661.60" width="14.00" height="3.60" rx="1.80" fill="#000" fill-opacity="0.75" filter="url(#bl2)"/>
<text x="298" y="626.79" font-size="9.55" text-anchor="end" fill="#231f20">CTSB<tspan font-size="5.5" dy="-3">endo</tspan></text>
<text x="298.9" y="646.69" font-size="9.55" text-anchor="end" fill="#231f20">CTSB<tspan font-size="5.5" dy="-3">exo</tspan><tspan dy="3"> (HA)</tspan></text>
<text x="298.90" y="666.49" font-size="9.55" text-anchor="end" fill="#231f20" font-weight="normal" font-style="normal">β-tubulin</text>
<line x1="451.00" y1="619.30" x2="454.40" y2="619.30" stroke="#231f20" stroke-width="1.0"/>
<text x="454.20" y="622.59" font-size="9.55" text-anchor="start" fill="#231f20" font-weight="normal" font-style="normal">25</text>
<line x1="451.00" y1="638.30" x2="454.40" y2="638.30" stroke="#231f20" stroke-width="1.0"/>
<text x="454.20" y="641.59" font-size="9.55" text-anchor="start" fill="#231f20" font-weight="normal" font-style="normal">55</text>
<line x1="451.00" y1="658.00" x2="454.40" y2="658.00" stroke="#231f20" stroke-width="1.0"/>
<text x="454.20" y="661.29" font-size="9.55" text-anchor="start" fill="#231f20" font-weight="normal" font-style="normal">55</text>
<text x="368.20" y="684.29" font-size="9.55" text-anchor="middle" fill="#231f20" font-weight="normal" font-style="normal">in CTSB-MUT cells</text>
<text x="471.50" y="570.20" font-size="15.2" text-anchor="start" fill="#000" font-weight="bold" font-style="normal">l</text>
<rect x="491.10" y="565.30" width="20.90" height="2.6" fill="#fff" stroke="#3a4ea6" stroke-width="1"/>
<text x="524.00" y="569.89" font-size="9.55" text-anchor="start" fill="#231f20" font-weight="normal" font-style="normal">Vec</text>
<rect x="550.10" y="564.90" width="20.40" height="2.6" fill="#fff" stroke="#e5392e" stroke-width="1"/>
<text x="582.80" y="569.89" font-size="9.55" text-anchor="start" fill="#231f20" font-weight="normal" font-style="normal">CTSB (WT)</text>
<line x1="522.70" y1="646.53" x2="522.70" y2="645.24" stroke="#231f20" stroke-width="1.3"/>
<line x1="519.80" y1="645.24" x2="525.60" y2="645.24" stroke="#231f20" stroke-width="1.2"/>
<rect x="517.45" y="646.53" width="10.50" height="25.37" fill="#fff" stroke="#3a4ea6" stroke-width="1.2"/>
<line x1="522.70" y1="671.90" x2="522.70" y2="674.70" stroke="#2b2728" stroke-width="1.1"/>
<line x1="539.90" y1="644.22" x2="539.90" y2="641.91" stroke="#231f20" stroke-width="1.3"/>
<line x1="537.00" y1="641.91" x2="542.80" y2="641.91" stroke="#231f20" stroke-width="1.2"/>
<rect x="534.55" y="644.22" width="10.70" height="27.68" fill="#fff" stroke="#3a4ea6" stroke-width="1.2"/>
<line x1="539.90" y1="671.90" x2="539.90" y2="674.70" stroke="#2b2728" stroke-width="1.1"/>
<line x1="556.95" y1="646.01" x2="556.95" y2="641.14" stroke="#231f20" stroke-width="1.3"/>
<line x1="554.05" y1="641.14" x2="559.85" y2="641.14" stroke="#231f20" stroke-width="1.2"/>
<rect x="551.65" y="646.01" width="10.60" height="25.89" fill="#fff" stroke="#3a4ea6" stroke-width="1.2"/>
<line x1="556.95" y1="671.90" x2="556.95" y2="674.70" stroke="#2b2728" stroke-width="1.1"/>
<line x1="574.10" y1="644.22" x2="574.10" y2="639.61" stroke="#231f20" stroke-width="1.3"/>
<line x1="571.20" y1="639.61" x2="577.00" y2="639.61" stroke="#231f20" stroke-width="1.2"/>
<rect x="568.65" y="644.22" width="10.90" height="27.68" fill="#fff" stroke="#3a4ea6" stroke-width="1.2"/>
<line x1="574.10" y1="671.90" x2="574.10" y2="674.70" stroke="#2b2728" stroke-width="1.1"/>
<line x1="602.55" y1="644.22" x2="602.55" y2="641.14" stroke="#231f20" stroke-width="1.3"/>
<line x1="599.65" y1="641.14" x2="605.45" y2="641.14" stroke="#231f20" stroke-width="1.2"/>
<rect x="597.25" y="644.22" width="10.60" height="27.68" fill="#fff" stroke="#e5392e" stroke-width="1.2"/>
<line x1="602.55" y1="671.90" x2="602.55" y2="674.70" stroke="#2b2728" stroke-width="1.1"/>
<line x1="619.60" y1="617.05" x2="619.60" y2="612.44" stroke="#231f20" stroke-width="1.3"/>
<line x1="616.70" y1="612.44" x2="622.50" y2="612.44" stroke="#231f20" stroke-width="1.2"/>
<rect x="614.25" y="617.05" width="10.70" height="54.85" fill="#fff" stroke="#e5392e" stroke-width="1.2"/>
<line x1="619.60" y1="671.90" x2="619.60" y2="674.70" stroke="#2b2728" stroke-width="1.1"/>
<line x1="636.85" y1="612.18" x2="636.85" y2="609.62" stroke="#231f20" stroke-width="1.3"/>
<line x1="633.95" y1="609.62" x2="639.75" y2="609.62" stroke="#231f20" stroke-width="1.2"/>
<rect x="631.35" y="612.18" width="11.00" height="59.72" fill="#fff" stroke="#e5392e" stroke-width="1.2"/>
<line x1="636.85" y1="671.90" x2="636.85" y2="674.70" stroke="#2b2728" stroke-width="1.1"/>
<line x1="653.80" y1="621.15" x2="653.80" y2="617.82" stroke="#231f20" stroke-width="1.3"/>
<line x1="650.90" y1="617.82" x2="656.70" y2="617.82" stroke="#231f20" stroke-width="1.2"/>
<rect x="648.35" y="621.15" width="10.90" height="50.75" fill="#fff" stroke="#e5392e" stroke-width="1.2"/>
<line x1="653.80" y1="671.90" x2="653.80" y2="674.70" stroke="#2b2728" stroke-width="1.1"/>
<line x1="511.50" y1="595.00" x2="511.50" y2="672.45" stroke="#2b2728" stroke-width="1.2"/>
<line x1="508.30" y1="671.90" x2="665.60" y2="671.90" stroke="#2b2728" stroke-width="1.25"/>
<line x1="508.30" y1="671.90" x2="511.50" y2="671.90" stroke="#2b2728" stroke-width="1.1"/>
<text x="506.20" y="675.06" font-size="9.2" text-anchor="end" fill="#231f20" font-weight="normal" font-style="normal">0</text>
<line x1="508.30" y1="646.27" x2="511.50" y2="646.27" stroke="#2b2728" stroke-width="1.1"/>
<text x="506.20" y="649.43" font-size="9.2" text-anchor="end" fill="#231f20" font-weight="normal" font-style="normal">1</text>
<line x1="508.30" y1="620.64" x2="511.50" y2="620.64" stroke="#2b2728" stroke-width="1.1"/>
<text x="506.20" y="623.80" font-size="9.2" text-anchor="end" fill="#231f20" font-weight="normal" font-style="normal">2</text>
<line x1="508.30" y1="595.01" x2="511.50" y2="595.01" stroke="#2b2728" stroke-width="1.1"/>
<text x="506.20" y="598.17" font-size="9.2" text-anchor="end" fill="#231f20" font-weight="normal" font-style="normal">3</text>
<text x="526.20" y="681.40" font-size="9.2" text-anchor="end" fill="#231f20" transform="rotate(-45 526.20 681.40)">Ctrl</text>
<text x="543.40" y="681.40" font-size="9.2" text-anchor="end" fill="#231f20" transform="rotate(-45 543.40 681.40)">AngII</text>
<text x="560.45" y="681.40" font-size="9.2" text-anchor="end" fill="#231f20" transform="rotate(-45 560.45 681.40)">OxLDL</text>
<text x="577.60" y="681.40" font-size="9.2" text-anchor="end" fill="#231f20" transform="rotate(-45 577.60 681.40)">HG</text>
<text x="606.05" y="681.40" font-size="9.2" text-anchor="end" fill="#231f20" transform="rotate(-45 606.05 681.40)">Ctrl</text>
<text x="623.10" y="681.40" font-size="9.2" text-anchor="end" fill="#231f20" transform="rotate(-45 623.10 681.40)">AngII</text>
<text x="640.35" y="681.40" font-size="9.2" text-anchor="end" fill="#231f20" transform="rotate(-45 640.35 681.40)">OxLDL</text>
<text x="657.30" y="681.40" font-size="9.2" text-anchor="end" fill="#231f20" transform="rotate(-45 657.30 681.40)">HG</text>
<text x="492.09" y="636.80" font-size="9.55" text-anchor="middle" fill="#231f20" transform="rotate(-90 492.09 636.80)">Relative CTSB<tspan font-size="7.6" dy="-4.2">endo</tspan><tspan dy="4.2" dx="3.2"> levels</tspan></text>
<path d="M602.50,609.00 V605.40 H619.60 V609.00" fill="none" stroke="#2b2728" stroke-width="1.1"/>
<text x="611.05" y="606.20" font-size="9" text-anchor="middle" fill="#231f20">***</text>
<path d="M602.50,598.80 V595.20 H636.90 V598.80" fill="none" stroke="#2b2728" stroke-width="1.1"/>
<text x="619.70" y="596.00" font-size="9" text-anchor="middle" fill="#231f20">***</text>
<path d="M602.50,589.60 V586.00 H653.80 V589.60" fill="none" stroke="#2b2728" stroke-width="1.1"/>
<text x="628.15" y="586.80" font-size="9" text-anchor="middle" fill="#231f20">**</text>
<text x="588.00" y="713.29" font-size="9.55" text-anchor="middle" fill="#231f20" font-weight="normal" font-style="normal">in CTSB-MUT cells</text>
<text x="2.00" y="734.70" font-size="15.2" text-anchor="start" fill="#000" font-weight="bold" font-style="normal">m</text>
<text x="45.50" y="736.99" font-size="9.55" text-anchor="start" fill="#231f20" font-weight="normal" font-style="normal">ActD</text>
<line x1="40.40" y1="738.80" x2="40.40" y2="855.85" stroke="#2b2728" stroke-width="1.2"/>
<line x1="40.40" y1="855.30" x2="157.00" y2="855.30" stroke="#2b2728" stroke-width="1.2"/>
<line x1="37.20" y1="855.30" x2="40.40" y2="855.30" stroke="#2b2728" stroke-width="1.1"/>
<text x="35.10" y="858.46" font-size="9.2" text-anchor="end" fill="#231f20" font-weight="normal" font-style="normal">0.0</text>
<line x1="37.20" y1="806.80" x2="40.40" y2="806.80" stroke="#2b2728" stroke-width="1.1"/>
<text x="35.10" y="809.96" font-size="9.2" text-anchor="end" fill="#231f20" font-weight="normal" font-style="normal">0.5</text>
<line x1="37.20" y1="758.30" x2="40.40" y2="758.30" stroke="#2b2728" stroke-width="1.1"/>
<text x="35.10" y="761.46" font-size="9.2" text-anchor="end" fill="#231f20" font-weight="normal" font-style="normal">1.0</text>
<line x1="48.50" y1="855.30" x2="48.50" y2="858.10" stroke="#2b2728" stroke-width="1.1"/>
<text x="48.50" y="869.76" font-size="9.2" text-anchor="middle" fill="#231f20" font-weight="normal" font-style="normal">0</text>
<line x1="75.20" y1="855.30" x2="75.20" y2="858.10" stroke="#2b2728" stroke-width="1.1"/>
<text x="75.20" y="869.76" font-size="9.2" text-anchor="middle" fill="#231f20" font-weight="normal" font-style="normal">6</text>
<line x1="101.90" y1="855.30" x2="101.90" y2="858.10" stroke="#2b2728" stroke-width="1.1"/>
<text x="101.90" y="869.76" font-size="9.2" text-anchor="middle" fill="#231f20" font-weight="normal" font-style="normal">12</text>
<line x1="128.60" y1="855.30" x2="128.60" y2="858.10" stroke="#2b2728" stroke-width="1.1"/>
<text x="128.60" y="869.76" font-size="9.2" text-anchor="middle" fill="#231f20" font-weight="normal" font-style="normal">18</text>
<line x1="155.30" y1="855.30" x2="155.30" y2="858.10" stroke="#2b2728" stroke-width="1.1"/>
<text x="155.30" y="869.76" font-size="9.2" text-anchor="middle" fill="#231f20" font-weight="normal" font-style="normal">24</text>
<text x="101.90" y="878.96" font-size="9.2" text-anchor="middle" fill="#231f20" font-weight="normal" font-style="normal">Hours</text>
<line x1="40.40" y1="806.80" x2="157.00" y2="806.80" stroke="#111" stroke-width="1.25" stroke-dasharray="3,2"/>
<line x1="48.50" y1="758.30" x2="155.30" y2="842.69" stroke="#3a4ea6" stroke-width="1.3" stroke-dasharray="3,1.8"/>
<line x1="48.50" y1="756.36" x2="155.30" y2="843.66" stroke="#e5392e" stroke-width="1.3" stroke-dasharray="3,1.8"/>
<line x1="48.50" y1="758.30" x2="48.50" y2="754.42" stroke="#231f20" stroke-width="1.0"/>
<line x1="46.20" y1="754.42" x2="50.80" y2="754.42" stroke="#231f20" stroke-width="1.1"/>
<circle cx="48.50" cy="758.30" r="2.4" fill="#3a4ea6"/>
<line x1="75.20" y1="781.58" x2="75.20" y2="777.70" stroke="#231f20" stroke-width="1.0"/>
<line x1="72.90" y1="777.70" x2="77.50" y2="777.70" stroke="#231f20" stroke-width="1.1"/>
<circle cx="75.20" cy="781.58" r="2.4" fill="#3a4ea6"/>
<line x1="101.90" y1="800.01" x2="101.90" y2="797.10" stroke="#231f20" stroke-width="1.0"/>
<line x1="99.60" y1="797.10" x2="104.20" y2="797.10" stroke="#231f20" stroke-width="1.1"/>
<circle cx="101.90" cy="800.01" r="2.4" fill="#3a4ea6"/>
<line x1="155.30" y1="841.72" x2="155.30" y2="839.78" stroke="#231f20" stroke-width="1.0"/>
<line x1="153.00" y1="839.78" x2="157.60" y2="839.78" stroke="#231f20" stroke-width="1.1"/>
<circle cx="155.30" cy="841.72" r="2.4" fill="#3a4ea6"/>
<line x1="48.50" y1="755.39" x2="48.50" y2="750.54" stroke="#231f20" stroke-width="1.0"/>
<line x1="46.20" y1="750.54" x2="50.80" y2="750.54" stroke="#231f20" stroke-width="1.1"/>
<path d="M48.50,752.59 L51.16,757.49 L45.84,757.49 Z" fill="#e5392e"/>
<path d="M75.20,780.72 L77.86,785.62 L72.54,785.62 Z" fill="#e5392e"/>
<line x1="101.90" y1="804.86" x2="101.90" y2="800.98" stroke="#231f20" stroke-width="1.0"/>
<line x1="99.60" y1="800.98" x2="104.20" y2="800.98" stroke="#231f20" stroke-width="1.1"/>
<path d="M101.90,802.06 L104.56,806.96 L99.24,806.96 Z" fill="#e5392e"/>
<path d="M155.30,840.86 L157.96,845.76 L152.64,845.76 Z" fill="#e5392e"/>
<line x1="83.50" y1="747.30" x2="104.50" y2="747.30" stroke="#3a4ea6" stroke-width="1.3" stroke-dasharray="3,1.8"/>
<circle cx="94.00" cy="747.30" r="2.3" fill="#3a4ea6"/>
<text x="116.20" y="750.59" font-size="9.55" text-anchor="start" fill="#231f20" font-weight="normal" font-style="normal">Vec</text>
<line x1="83.50" y1="760.80" x2="104.50" y2="760.80" stroke="#e5392e" stroke-width="1.3" stroke-dasharray="3,1.8"/>
<path d="M94.00,758.20 L96.47,762.75 L91.53,762.75 Z" fill="#e5392e"/>
<text x="116.20" y="764.09" font-size="9.55" text-anchor="start" fill="#231f20" font-weight="normal" font-style="normal">CTSB (WT)</text>
<text x="107.30" y="794.00" font-size="9.6" fill="#e5392e">t<tspan font-size="6.53" dy="3.1">1/2</tspan><tspan dy="-3.1"> = 13.3 h</tspan></text>
<text x="60.00" y="821.30" font-size="9.6" fill="#3a4ea6">t<tspan font-size="6.53" dy="3.1">1/2</tspan><tspan dy="-3.1"> = 13.8 h</tspan></text>
<text x="12.59" y="799.00" font-size="9.55" text-anchor="middle" fill="#231f20" transform="rotate(-90 12.59 799.00)">Relative <tspan font-style="italic">CTSB</tspan><tspan font-size="7.4" dy="-3.6" font-style="italic">endo</tspan><tspan dy="3.6"> mRNA</tspan></text>
<text x="102.20" y="897.49" font-size="9.55" text-anchor="middle" fill="#231f20" font-weight="normal" font-style="normal">in CTSB-MUT cells</text>
<text x="173.30" y="734.70" font-size="15.2" text-anchor="start" fill="#000" font-weight="bold" font-style="normal">n</text>
<text x="213.50" y="739.09" font-size="9.55" text-anchor="start" fill="#231f20" font-weight="normal" font-style="normal">Ang II + ActD</text>
<line x1="210.50" y1="740.90" x2="210.50" y2="857.15" stroke="#2b2728" stroke-width="1.2"/>
<line x1="210.50" y1="856.60" x2="327.00" y2="856.60" stroke="#2b2728" stroke-width="1.2"/>
<line x1="207.30" y1="856.60" x2="210.50" y2="856.60" stroke="#2b2728" stroke-width="1.1"/>
<text x="205.20" y="859.76" font-size="9.2" text-anchor="end" fill="#231f20" font-weight="normal" font-style="normal">0.0</text>
<line x1="207.30" y1="808.60" x2="210.50" y2="808.60" stroke="#2b2728" stroke-width="1.1"/>
<text x="205.20" y="811.76" font-size="9.2" text-anchor="end" fill="#231f20" font-weight="normal" font-style="normal">0.5</text>
<line x1="207.30" y1="760.60" x2="210.50" y2="760.60" stroke="#2b2728" stroke-width="1.1"/>
<text x="205.20" y="763.76" font-size="9.2" text-anchor="end" fill="#231f20" font-weight="normal" font-style="normal">1.0</text>
<line x1="219.20" y1="856.60" x2="219.20" y2="859.40" stroke="#2b2728" stroke-width="1.1"/>
<text x="219.20" y="871.76" font-size="9.2" text-anchor="middle" fill="#231f20" font-weight="normal" font-style="normal">0</text>
<line x1="245.90" y1="856.60" x2="245.90" y2="859.40" stroke="#2b2728" stroke-width="1.1"/>
<text x="245.90" y="871.76" font-size="9.2" text-anchor="middle" fill="#231f20" font-weight="normal" font-style="normal">6</text>
<line x1="272.60" y1="856.60" x2="272.60" y2="859.40" stroke="#2b2728" stroke-width="1.1"/>
<text x="272.60" y="871.76" font-size="9.2" text-anchor="middle" fill="#231f20" font-weight="normal" font-style="normal">12</text>
<line x1="299.30" y1="856.60" x2="299.30" y2="859.40" stroke="#2b2728" stroke-width="1.1"/>
<text x="299.30" y="871.76" font-size="9.2" text-anchor="middle" fill="#231f20" font-weight="normal" font-style="normal">18</text>
<line x1="326.00" y1="856.60" x2="326.00" y2="859.40" stroke="#2b2728" stroke-width="1.1"/>
<text x="326.00" y="871.76" font-size="9.2" text-anchor="middle" fill="#231f20" font-weight="normal" font-style="normal">24</text>
<text x="272.60" y="880.76" font-size="9.2" text-anchor="middle" fill="#231f20" font-weight="normal" font-style="normal">Hours</text>
<line x1="210.50" y1="808.60" x2="327.00" y2="808.60" stroke="#111" stroke-width="1.25" stroke-dasharray="3,2"/>
<line x1="219.20" y1="772.12" x2="326.00" y2="838.36" stroke="#3a4ea6" stroke-width="1.3" stroke-dasharray="3,1.8"/>
<line x1="219.20" y1="763.96" x2="326.00" y2="806.68" stroke="#e5392e" stroke-width="1.3" stroke-dasharray="3,1.8"/>
<line x1="219.20" y1="770.20" x2="219.20" y2="768.28" stroke="#231f20" stroke-width="1.0"/>
<line x1="216.90" y1="768.28" x2="221.50" y2="768.28" stroke="#231f20" stroke-width="1.1"/>
<circle cx="219.20" cy="770.20" r="2.4" fill="#3a4ea6"/>
<line x1="245.90" y1="789.40" x2="245.90" y2="787.48" stroke="#231f20" stroke-width="1.0"/>
<line x1="243.60" y1="787.48" x2="248.20" y2="787.48" stroke="#231f20" stroke-width="1.1"/>
<circle cx="245.90" cy="789.40" r="2.4" fill="#3a4ea6"/>
<line x1="272.60" y1="803.80" x2="272.60" y2="797.08" stroke="#231f20" stroke-width="1.0"/>
<line x1="270.30" y1="797.08" x2="274.90" y2="797.08" stroke="#231f20" stroke-width="1.1"/>
<circle cx="272.60" cy="803.80" r="2.4" fill="#3a4ea6"/>
<line x1="326.00" y1="840.28" x2="326.00" y2="835.48" stroke="#231f20" stroke-width="1.0"/>
<line x1="323.70" y1="835.48" x2="328.30" y2="835.48" stroke="#231f20" stroke-width="1.1"/>
<circle cx="326.00" cy="840.28" r="2.4" fill="#3a4ea6"/>
<line x1="219.20" y1="760.60" x2="219.20" y2="757.72" stroke="#231f20" stroke-width="1.0"/>
<line x1="216.90" y1="757.72" x2="221.50" y2="757.72" stroke="#231f20" stroke-width="1.1"/>
<path d="M219.20,757.80 L221.86,762.70 L216.54,762.70 Z" fill="#e5392e"/>
<line x1="245.90" y1="775.96" x2="245.90" y2="773.08" stroke="#231f20" stroke-width="1.0"/>
<line x1="243.60" y1="773.08" x2="248.20" y2="773.08" stroke="#231f20" stroke-width="1.1"/>
<path d="M245.90,773.16 L248.56,778.06 L243.24,778.06 Z" fill="#e5392e"/>
<line x1="272.60" y1="790.36" x2="272.60" y2="787.48" stroke="#231f20" stroke-width="1.0"/>
<line x1="270.30" y1="787.48" x2="274.90" y2="787.48" stroke="#231f20" stroke-width="1.1"/>
<path d="M272.60,787.56 L275.26,792.46 L269.94,792.46 Z" fill="#e5392e"/>
<line x1="326.00" y1="807.64" x2="326.00" y2="803.80" stroke="#231f20" stroke-width="1.0"/>
<line x1="323.70" y1="803.80" x2="328.30" y2="803.80" stroke="#231f20" stroke-width="1.1"/>
<path d="M326.00,804.84 L328.66,809.74 L323.34,809.74 Z" fill="#e5392e"/>
<line x1="255.40" y1="749.30" x2="276.40" y2="749.30" stroke="#3a4ea6" stroke-width="1.3" stroke-dasharray="3,1.8"/>
<circle cx="265.90" cy="749.30" r="2.3" fill="#3a4ea6"/>
<text x="288.40" y="752.59" font-size="9.55" text-anchor="start" fill="#231f20" font-weight="normal" font-style="normal">Vec</text>
<line x1="255.40" y1="762.10" x2="276.40" y2="762.10" stroke="#e5392e" stroke-width="1.3" stroke-dasharray="3,1.8"/>
<path d="M265.90,759.50 L268.37,764.05 L263.43,764.05 Z" fill="#e5392e"/>
<text x="288.40" y="765.39" font-size="9.55" text-anchor="start" fill="#231f20" font-weight="normal" font-style="normal">CTSB (WT)</text>
<text x="281.20" y="786.30" font-size="9.6" fill="#e5392e">t<tspan font-size="6.53" dy="3.1">1/2</tspan><tspan dy="-3.1"> = 23.5 h</tspan></text>
<text x="232.70" y="823.40" font-size="9.6" fill="#3a4ea6">t<tspan font-size="6.53" dy="3.1">1/2</tspan><tspan dy="-3.1"> = 13.2 h</tspan></text>
<text x="184.29" y="801.00" font-size="9.55" text-anchor="middle" fill="#231f20" transform="rotate(-90 184.29 801.00)">Relative <tspan font-style="italic">CTSB</tspan><tspan font-size="7.4" dy="-3.6" font-style="italic">endo</tspan><tspan dy="3.6"> mRNA</tspan></text>
<text x="274.50" y="898.79" font-size="9.55" text-anchor="middle" fill="#231f20" font-weight="normal" font-style="normal">in CTSB-MUT cells</text>
<text x="345.10" y="736.00" font-size="15.2" text-anchor="start" fill="#000" font-weight="bold" font-style="normal">o</text>
<text x="387.40" y="741.09" font-size="9.55" text-anchor="start" fill="#231f20" font-weight="normal" font-style="normal">OxLDL + ActD</text>
<line x1="384.80" y1="744.00" x2="384.80" y2="860.35" stroke="#2b2728" stroke-width="1.2"/>
<line x1="384.80" y1="859.80" x2="501.50" y2="859.80" stroke="#2b2728" stroke-width="1.2"/>
<line x1="381.60" y1="859.80" x2="384.80" y2="859.80" stroke="#2b2728" stroke-width="1.1"/>
<text x="379.50" y="862.96" font-size="9.2" text-anchor="end" fill="#231f20" font-weight="normal" font-style="normal">0.0</text>
<line x1="381.60" y1="811.60" x2="384.80" y2="811.60" stroke="#2b2728" stroke-width="1.1"/>
<text x="379.50" y="814.76" font-size="9.2" text-anchor="end" fill="#231f20" font-weight="normal" font-style="normal">0.5</text>
<line x1="381.60" y1="763.40" x2="384.80" y2="763.40" stroke="#2b2728" stroke-width="1.1"/>
<text x="379.50" y="766.56" font-size="9.2" text-anchor="end" fill="#231f20" font-weight="normal" font-style="normal">1.0</text>
<line x1="393.30" y1="859.80" x2="393.30" y2="862.60" stroke="#2b2728" stroke-width="1.1"/>
<text x="393.30" y="873.86" font-size="9.2" text-anchor="middle" fill="#231f20" font-weight="normal" font-style="normal">0</text>
<line x1="420.12" y1="859.80" x2="420.12" y2="862.60" stroke="#2b2728" stroke-width="1.1"/>
<text x="420.12" y="873.86" font-size="9.2" text-anchor="middle" fill="#231f20" font-weight="normal" font-style="normal">6</text>
<line x1="446.95" y1="859.80" x2="446.95" y2="862.60" stroke="#2b2728" stroke-width="1.1"/>
<text x="446.95" y="873.86" font-size="9.2" text-anchor="middle" fill="#231f20" font-weight="normal" font-style="normal">12</text>
<line x1="473.78" y1="859.80" x2="473.78" y2="862.60" stroke="#2b2728" stroke-width="1.1"/>
<text x="473.78" y="873.86" font-size="9.2" text-anchor="middle" fill="#231f20" font-weight="normal" font-style="normal">18</text>
<line x1="500.60" y1="859.80" x2="500.60" y2="862.60" stroke="#2b2728" stroke-width="1.1"/>
<text x="500.60" y="873.86" font-size="9.2" text-anchor="middle" fill="#231f20" font-weight="normal" font-style="normal">24</text>
<text x="446.95" y="883.26" font-size="9.2" text-anchor="middle" fill="#231f20" font-weight="normal" font-style="normal">Hours</text>
<line x1="384.80" y1="811.60" x2="501.50" y2="811.60" stroke="#111" stroke-width="1.25" stroke-dasharray="3,2"/>
<line x1="393.30" y1="775.45" x2="500.60" y2="845.34" stroke="#3a4ea6" stroke-width="1.3" stroke-dasharray="3,1.8"/>
<line x1="393.30" y1="765.91" x2="500.60" y2="809.96" stroke="#e5392e" stroke-width="1.3" stroke-dasharray="3,1.8"/>
<line x1="393.30" y1="773.04" x2="393.30" y2="771.11" stroke="#231f20" stroke-width="1.0"/>
<line x1="391.00" y1="771.11" x2="395.60" y2="771.11" stroke="#231f20" stroke-width="1.1"/>
<circle cx="393.30" cy="773.04" r="2.4" fill="#3a4ea6"/>
<line x1="420.12" y1="795.21" x2="420.12" y2="792.32" stroke="#231f20" stroke-width="1.0"/>
<line x1="417.82" y1="792.32" x2="422.43" y2="792.32" stroke="#231f20" stroke-width="1.1"/>
<circle cx="420.12" cy="795.21" r="2.4" fill="#3a4ea6"/>
<circle cx="446.95" cy="813.53" r="2.4" fill="#3a4ea6"/>
<line x1="500.60" y1="847.27" x2="500.60" y2="843.41" stroke="#231f20" stroke-width="1.0"/>
<line x1="498.30" y1="843.41" x2="502.90" y2="843.41" stroke="#231f20" stroke-width="1.1"/>
<circle cx="500.60" cy="847.27" r="2.4" fill="#3a4ea6"/>
<line x1="393.30" y1="763.40" x2="393.30" y2="758.58" stroke="#231f20" stroke-width="1.0"/>
<line x1="391.00" y1="758.58" x2="395.60" y2="758.58" stroke="#231f20" stroke-width="1.1"/>
<path d="M393.30,760.60 L395.96,765.50 L390.64,765.50 Z" fill="#e5392e"/>
<line x1="420.12" y1="774.97" x2="420.12" y2="772.08" stroke="#231f20" stroke-width="1.0"/>
<line x1="417.82" y1="772.08" x2="422.43" y2="772.08" stroke="#231f20" stroke-width="1.1"/>
<path d="M420.12,772.17 L422.79,777.07 L417.46,777.07 Z" fill="#e5392e"/>
<line x1="446.95" y1="795.21" x2="446.95" y2="791.36" stroke="#231f20" stroke-width="1.0"/>
<line x1="444.65" y1="791.36" x2="449.25" y2="791.36" stroke="#231f20" stroke-width="1.1"/>
<path d="M446.95,792.41 L449.61,797.31 L444.29,797.31 Z" fill="#e5392e"/>
<line x1="500.60" y1="809.67" x2="500.60" y2="805.82" stroke="#231f20" stroke-width="1.0"/>
<line x1="498.30" y1="805.82" x2="502.90" y2="805.82" stroke="#231f20" stroke-width="1.1"/>
<path d="M500.60,806.87 L503.26,811.77 L497.94,811.77 Z" fill="#e5392e"/>
<line x1="429.30" y1="753.70" x2="450.30" y2="753.70" stroke="#3a4ea6" stroke-width="1.3" stroke-dasharray="3,1.8"/>
<circle cx="439.80" cy="753.70" r="2.3" fill="#3a4ea6"/>
<text x="462.20" y="756.99" font-size="9.55" text-anchor="start" fill="#231f20" font-weight="normal" font-style="normal">Vec</text>
<line x1="429.30" y1="766.40" x2="450.30" y2="766.40" stroke="#e5392e" stroke-width="1.3" stroke-dasharray="3,1.8"/>
<path d="M439.80,763.80 L442.27,768.35 L437.33,768.35 Z" fill="#e5392e"/>
<text x="462.20" y="769.69" font-size="9.55" text-anchor="start" fill="#231f20" font-weight="normal" font-style="normal">CTSB (WT)</text>
<text x="454.60" y="787.10" font-size="9.6" fill="#e5392e">t<tspan font-size="6.53" dy="3.1">1/2</tspan><tspan dy="-3.1"> = 24.3 h</tspan></text>
<text x="401.40" y="829.00" font-size="9.6" fill="#3a4ea6">t<tspan font-size="6.53" dy="3.1">1/2</tspan><tspan dy="-3.1"> = 12.0 h</tspan></text>
<text x="358.39" y="804.00" font-size="9.55" text-anchor="middle" fill="#231f20" transform="rotate(-90 358.39 804.00)">Relative <tspan font-style="italic">CTSB</tspan><tspan font-size="7.4" dy="-3.6" font-style="italic">endo</tspan><tspan dy="3.6"> mRNA</tspan></text>
<text x="448.70" y="899.99" font-size="9.55" text-anchor="middle" fill="#231f20" font-weight="normal" font-style="normal">in CTSB-MUT cells</text>
<text x="518.90" y="733.80" font-size="15.2" text-anchor="start" fill="#000" font-weight="bold" font-style="normal">p</text>
<text x="560.70" y="743.29" font-size="9.55" text-anchor="start" fill="#231f20" font-weight="normal" font-style="normal">HG + ActD</text>
<line x1="558.90" y1="745.20" x2="558.90" y2="861.75" stroke="#2b2728" stroke-width="1.2"/>
<line x1="558.90" y1="861.20" x2="675.00" y2="861.20" stroke="#2b2728" stroke-width="1.2"/>
<line x1="555.70" y1="861.20" x2="558.90" y2="861.20" stroke="#2b2728" stroke-width="1.1"/>
<text x="553.60" y="864.36" font-size="9.2" text-anchor="end" fill="#231f20" font-weight="normal" font-style="normal">0.0</text>
<line x1="555.70" y1="812.50" x2="558.90" y2="812.50" stroke="#2b2728" stroke-width="1.1"/>
<text x="553.60" y="815.66" font-size="9.2" text-anchor="end" fill="#231f20" font-weight="normal" font-style="normal">0.5</text>
<line x1="555.70" y1="763.80" x2="558.90" y2="763.80" stroke="#2b2728" stroke-width="1.1"/>
<text x="553.60" y="766.96" font-size="9.2" text-anchor="end" fill="#231f20" font-weight="normal" font-style="normal">1.0</text>
<line x1="567.30" y1="861.20" x2="567.30" y2="864.00" stroke="#2b2728" stroke-width="1.1"/>
<text x="567.30" y="875.26" font-size="9.2" text-anchor="middle" fill="#231f20" font-weight="normal" font-style="normal">0</text>
<line x1="593.95" y1="861.20" x2="593.95" y2="864.00" stroke="#2b2728" stroke-width="1.1"/>
<text x="593.95" y="875.26" font-size="9.2" text-anchor="middle" fill="#231f20" font-weight="normal" font-style="normal">6</text>
<line x1="620.60" y1="861.20" x2="620.60" y2="864.00" stroke="#2b2728" stroke-width="1.1"/>
<text x="620.60" y="875.26" font-size="9.2" text-anchor="middle" fill="#231f20" font-weight="normal" font-style="normal">12</text>
<line x1="647.25" y1="861.20" x2="647.25" y2="864.00" stroke="#2b2728" stroke-width="1.1"/>
<text x="647.25" y="875.26" font-size="9.2" text-anchor="middle" fill="#231f20" font-weight="normal" font-style="normal">18</text>
<line x1="673.90" y1="861.20" x2="673.90" y2="864.00" stroke="#2b2728" stroke-width="1.1"/>
<text x="673.90" y="875.26" font-size="9.2" text-anchor="middle" fill="#231f20" font-weight="normal" font-style="normal">24</text>
<text x="620.60" y="883.96" font-size="9.2" text-anchor="middle" fill="#231f20" font-weight="normal" font-style="normal">Hours</text>
<line x1="558.90" y1="812.50" x2="675.00" y2="812.50" stroke="#111" stroke-width="1.25" stroke-dasharray="3,2"/>
<line x1="567.30" y1="773.54" x2="673.90" y2="843.67" stroke="#3a4ea6" stroke-width="1.3" stroke-dasharray="3,1.8"/>
<line x1="567.30" y1="767.70" x2="673.90" y2="815.42" stroke="#e5392e" stroke-width="1.3" stroke-dasharray="3,1.8"/>
<circle cx="567.30" cy="770.62" r="2.4" fill="#3a4ea6"/>
<line x1="593.95" y1="794.97" x2="593.95" y2="792.05" stroke="#231f20" stroke-width="1.0"/>
<line x1="591.65" y1="792.05" x2="596.25" y2="792.05" stroke="#231f20" stroke-width="1.1"/>
<circle cx="593.95" cy="794.97" r="2.4" fill="#3a4ea6"/>
<circle cx="620.60" cy="807.63" r="2.4" fill="#3a4ea6"/>
<line x1="673.90" y1="844.64" x2="673.90" y2="840.75" stroke="#231f20" stroke-width="1.0"/>
<line x1="671.60" y1="840.75" x2="676.20" y2="840.75" stroke="#231f20" stroke-width="1.1"/>
<circle cx="673.90" cy="844.64" r="2.4" fill="#3a4ea6"/>
<path d="M567.30,761.00 L569.96,765.90 L564.64,765.90 Z" fill="#e5392e"/>
<line x1="593.95" y1="784.25" x2="593.95" y2="781.33" stroke="#231f20" stroke-width="1.0"/>
<line x1="591.65" y1="781.33" x2="596.25" y2="781.33" stroke="#231f20" stroke-width="1.1"/>
<path d="M593.95,781.45 L596.61,786.35 L591.29,786.35 Z" fill="#e5392e"/>
<line x1="620.60" y1="795.94" x2="620.60" y2="793.02" stroke="#231f20" stroke-width="1.0"/>
<line x1="618.30" y1="793.02" x2="622.90" y2="793.02" stroke="#231f20" stroke-width="1.1"/>
<path d="M620.60,793.14 L623.26,798.04 L617.94,798.04 Z" fill="#e5392e"/>
<line x1="673.90" y1="817.37" x2="673.90" y2="812.50" stroke="#231f20" stroke-width="1.0"/>
<line x1="671.60" y1="812.50" x2="676.20" y2="812.50" stroke="#231f20" stroke-width="1.1"/>
<path d="M673.90,814.57 L676.56,819.47 L671.24,819.47 Z" fill="#e5392e"/>
<line x1="602.20" y1="757.80" x2="623.20" y2="757.80" stroke="#3a4ea6" stroke-width="1.3" stroke-dasharray="3,1.8"/>
<circle cx="612.70" cy="757.80" r="2.3" fill="#3a4ea6"/>
<text x="635.00" y="761.09" font-size="9.55" text-anchor="start" fill="#231f20" font-weight="normal" font-style="normal">Vec</text>
<line x1="602.20" y1="770.40" x2="623.20" y2="770.40" stroke="#e5392e" stroke-width="1.3" stroke-dasharray="3,1.8"/>
<path d="M612.70,767.80 L615.17,772.35 L610.23,772.35 Z" fill="#e5392e"/>
<text x="635.00" y="773.69" font-size="9.55" text-anchor="start" fill="#231f20" font-weight="normal" font-style="normal">CTSB (WT)</text>
<text x="631.10" y="792.10" font-size="9.6" fill="#e5392e">t<tspan font-size="6.53" dy="3.1">1/2</tspan><tspan dy="-3.1"> = 20.7 h</tspan></text>
<text x="580.70" y="828.90" font-size="9.6" fill="#3a4ea6">t<tspan font-size="6.53" dy="3.1">1/2</tspan><tspan dy="-3.1"> = 13.0 h</tspan></text>
<text x="532.79" y="804.20" font-size="9.55" text-anchor="middle" fill="#231f20" transform="rotate(-90 532.79 804.20)">Relative <tspan font-style="italic">CTSB</tspan><tspan font-size="7.4" dy="-3.6" font-style="italic">endo</tspan><tspan dy="3.6"> mRNA</tspan></text>
<text x="620.60" y="900.39" font-size="9.55" text-anchor="middle" fill="#231f20" font-weight="normal" font-style="normal">in CTSB-MUT cells</text>
</svg></body></html>
